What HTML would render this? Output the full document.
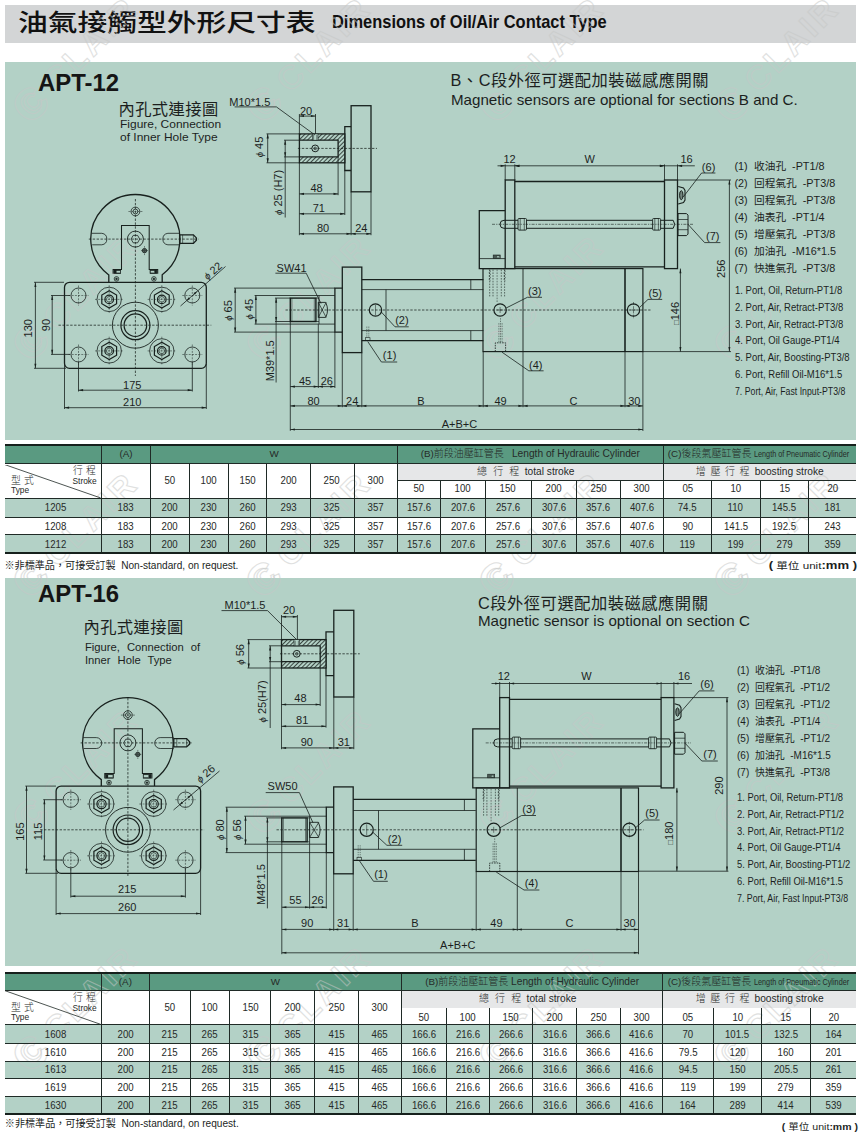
<!DOCTYPE html>
<html lang="zh-Hant"><head><meta charset="utf-8"><title>油氣接觸型外形尺寸表 Dimensions of Oil/Air Contact Type</title>
<style>
html,body{margin:0;padding:0;background:#fff}
body{width:861px;height:1139px;position:relative;overflow:hidden;font-family:"Liberation Sans","Noto Sans CJK TC",sans-serif;color:#1c1f1e}
.abs{position:absolute;white-space:nowrap}
#titlebar{position:absolute;left:5px;top:5px;width:851px;height:38px;background:#d3d5d6}
#t-zh{left:13px;top:-2px;font-size:24px;transform-origin:0 50%;transform:scaleX(1.24);line-height:40px;font-family:"Liberation Sans","Noto Sans CJK TC",sans-serif;font-weight:500;color:#111}
#t-en{left:327px;top:3px;font-size:18.4px;font-weight:bold;line-height:28px;transform-origin:0 50%;transform:scaleX(0.894);color:#111}
.bg{position:absolute}
.panel{position:absolute;left:5px;width:851px;background:#b3d1c6}
#p1{top:62.3px;height:377.4px}
#p2{top:578px;height:388px}
svg#draw{position:absolute;left:0;top:0;width:861px;height:1139px}
svg#draw text{font-family:"Liberation Sans","Noto Sans CJK TC",sans-serif;fill:#1c1f1e}
.model{font-size:23px;font-weight:bold;line-height:24px;color:#151515;transform-origin:0 50%;transform:scaleX(1.04)}
.zh16{font-size:16.3px;line-height:18px;letter-spacing:0.5px;font-family:"Liberation Sans","Noto Sans CJK TC",sans-serif}
.en15{font-size:15.15px;line-height:17px}
.en11{font-size:10.6px;line-height:13px;transform-origin:0 0;transform:scaleX(1.13)}
.leg{font-size:10.8px;line-height:16.9px}
.leg div{height:16.9px;white-space:nowrap}
.leg .e{transform-origin:0 50%;transform:scaleX(0.88)}
.leg .n{display:inline-block;width:19.5px}
.leg .z{font-size:10.7px}
table.dt{position:absolute;left:5px;width:851px;border-collapse:collapse;table-layout:fixed;font-size:9.8px;color:#262a28}
table.dt td{border:1px solid #1f2a26;padding:0;text-align:center;vertical-align:middle;overflow:hidden;white-space:nowrap;line-height:10px}
table.dt{border-top:2px solid #16201c;border-bottom:2px solid #16201c}
table.dt tr.h td{font-size:9.8px}
table.dt td.m{padding-left:6px}
table.dt td i{font-style:normal;display:inline-block;font-size:10.4px;transform:scaleX(0.93)}
.zl{font-weight:300;font-size:10px}
.zs{word-spacing:2.2px;letter-spacing:0.6px;margin-right:2px}
table.dt td.sub{padding-right:9px}


table.dt td:first-child{border-left:none}
table.dt td.last{border-right:none}
table.nb td.sub{border-bottom:none}
table.nb tr.n2 td{border-top:none;padding-top:4px}
.fn{font-size:10.1px;line-height:12px}
.un{font-size:9.6px;line-height:12px;transform-origin:100% 50%;transform:scaleX(1.13)}
.un b{font-size:10.8px}
table.dt td.diag{position:relative;text-align:left}
.dg{position:relative;width:96px}
.dg svg{position:absolute;left:0;top:0}
.dg span{position:absolute;white-space:nowrap;line-height:10px}
.dg .a1{left:68px;top:1.8px;font-size:9.8px;letter-spacing:0.3px;font-weight:300}
.dg .a2{left:67.5px;top:11.6px;font-size:8.4px}
.dg .a3{left:6px;top:11.6px;font-size:9.8px;letter-spacing:0.3px;font-weight:300}
.dg .a4{left:6px;top:20.8px;font-size:8.4px}
.cn{display:inline-block;transform-origin:0 50%;transform:scaleX(0.74);margin-right:-31px;font-size:9.8px}
svg#draw #wmk text{font-family:"Liberation Sans",sans-serif;fill:none;stroke:#c6c8c7;stroke-width:1.1;opacity:0.55;font-weight:bold}
</style></head><body>

<div id="titlebar"><div class="abs" id="t-zh">油氣接觸型外形尺寸表</div><div class="abs" id="t-en">Dimensions of Oil/Air Contact Type</div></div>
<div class="panel" id="p1"></div><div class="panel" id="p2"></div>
<div class="bg" style="left:5px;top:444.5px;width:851px;height:19.0px;background:#5a9a81"></div>
<div class="bg" style="left:397.5px;top:463.5px;width:458.5px;height:17.0px;background:#e6e7e8"></div>
<div class="bg" style="left:5px;top:498.0px;width:851px;height:19.0px;background:#b3d1c6"></div>
<div class="bg" style="left:5px;top:534.5px;width:851px;height:18.5px;background:#b3d1c6"></div>
<div class="bg" style="left:5px;top:972.8px;width:851px;height:17.3px;background:#5a9a81"></div>
<div class="bg" style="left:401.5px;top:990.1px;width:454.5px;height:17.6px;background:#e6e7e8"></div>
<div class="bg" style="left:5px;top:1025.0px;width:851px;height:18.1px;background:#b3d1c6"></div>
<div class="bg" style="left:5px;top:1061.3px;width:851px;height:17.4px;background:#b3d1c6"></div>
<div class="bg" style="left:5px;top:1096.6px;width:851px;height:17.4px;background:#b3d1c6"></div>
<svg id="draw" viewBox="0 0 861 1139">
<g id="wmk"><g transform="translate(74 60) rotate(-45)"><text class="wm" x="-78" y="15.8" font-size="44">C</text><text class="wm" x="-68" y="8.6" font-size="24">C</text><text class="wm" x="-36" y="11.8" font-size="33" letter-spacing="3.5">CLAIR</text></g>
<g transform="translate(307 60) rotate(-45)"><text class="wm" x="-78" y="15.8" font-size="44">C</text><text class="wm" x="-68" y="8.6" font-size="24">C</text><text class="wm" x="-36" y="11.8" font-size="33" letter-spacing="3.5">CLAIR</text></g>
<g transform="translate(540 60) rotate(-45)"><text class="wm" x="-78" y="15.8" font-size="44">C</text><text class="wm" x="-68" y="8.6" font-size="24">C</text><text class="wm" x="-36" y="11.8" font-size="33" letter-spacing="3.5">CLAIR</text></g>
<g transform="translate(775 60) rotate(-45)"><text class="wm" x="-78" y="15.8" font-size="44">C</text><text class="wm" x="-68" y="8.6" font-size="24">C</text><text class="wm" x="-36" y="11.8" font-size="33" letter-spacing="3.5">CLAIR</text></g>
<g transform="translate(74 298) rotate(-45)"><text class="wm" x="-78" y="15.8" font-size="44">C</text><text class="wm" x="-68" y="8.6" font-size="24">C</text><text class="wm" x="-36" y="11.8" font-size="33" letter-spacing="3.5">CLAIR</text></g>
<g transform="translate(307 298) rotate(-45)"><text class="wm" x="-78" y="15.8" font-size="44">C</text><text class="wm" x="-68" y="8.6" font-size="24">C</text><text class="wm" x="-36" y="11.8" font-size="33" letter-spacing="3.5">CLAIR</text></g>
<g transform="translate(540 298) rotate(-45)"><text class="wm" x="-78" y="15.8" font-size="44">C</text><text class="wm" x="-68" y="8.6" font-size="24">C</text><text class="wm" x="-36" y="11.8" font-size="33" letter-spacing="3.5">CLAIR</text></g>
<g transform="translate(775 298) rotate(-45)"><text class="wm" x="-78" y="15.8" font-size="44">C</text><text class="wm" x="-68" y="8.6" font-size="24">C</text><text class="wm" x="-36" y="11.8" font-size="33" letter-spacing="3.5">CLAIR</text></g>
<g transform="translate(74 535) rotate(-45)"><text class="wm" x="-78" y="15.8" font-size="44">C</text><text class="wm" x="-68" y="8.6" font-size="24">C</text><text class="wm" x="-36" y="11.8" font-size="33" letter-spacing="3.5">CLAIR</text></g>
<g transform="translate(307 535) rotate(-45)"><text class="wm" x="-78" y="15.8" font-size="44">C</text><text class="wm" x="-68" y="8.6" font-size="24">C</text><text class="wm" x="-36" y="11.8" font-size="33" letter-spacing="3.5">CLAIR</text></g>
<g transform="translate(540 535) rotate(-45)"><text class="wm" x="-78" y="15.8" font-size="44">C</text><text class="wm" x="-68" y="8.6" font-size="24">C</text><text class="wm" x="-36" y="11.8" font-size="33" letter-spacing="3.5">CLAIR</text></g>
<g transform="translate(775 535) rotate(-45)"><text class="wm" x="-78" y="15.8" font-size="44">C</text><text class="wm" x="-68" y="8.6" font-size="24">C</text><text class="wm" x="-36" y="11.8" font-size="33" letter-spacing="3.5">CLAIR</text></g>
<g transform="translate(74 772) rotate(-45)"><text class="wm" x="-78" y="15.8" font-size="44">C</text><text class="wm" x="-68" y="8.6" font-size="24">C</text><text class="wm" x="-36" y="11.8" font-size="33" letter-spacing="3.5">CLAIR</text></g>
<g transform="translate(307 772) rotate(-45)"><text class="wm" x="-78" y="15.8" font-size="44">C</text><text class="wm" x="-68" y="8.6" font-size="24">C</text><text class="wm" x="-36" y="11.8" font-size="33" letter-spacing="3.5">CLAIR</text></g>
<g transform="translate(540 772) rotate(-45)"><text class="wm" x="-78" y="15.8" font-size="44">C</text><text class="wm" x="-68" y="8.6" font-size="24">C</text><text class="wm" x="-36" y="11.8" font-size="33" letter-spacing="3.5">CLAIR</text></g>
<g transform="translate(775 772) rotate(-45)"><text class="wm" x="-78" y="15.8" font-size="44">C</text><text class="wm" x="-68" y="8.6" font-size="24">C</text><text class="wm" x="-36" y="11.8" font-size="33" letter-spacing="3.5">CLAIR</text></g>
<g transform="translate(74 1009) rotate(-45)"><text class="wm" x="-78" y="15.8" font-size="44">C</text><text class="wm" x="-68" y="8.6" font-size="24">C</text><text class="wm" x="-36" y="11.8" font-size="33" letter-spacing="3.5">CLAIR</text></g>
<g transform="translate(307 1009) rotate(-45)"><text class="wm" x="-78" y="15.8" font-size="44">C</text><text class="wm" x="-68" y="8.6" font-size="24">C</text><text class="wm" x="-36" y="11.8" font-size="33" letter-spacing="3.5">CLAIR</text></g>
<g transform="translate(540 1009) rotate(-45)"><text class="wm" x="-78" y="15.8" font-size="44">C</text><text class="wm" x="-68" y="8.6" font-size="24">C</text><text class="wm" x="-36" y="11.8" font-size="33" letter-spacing="3.5">CLAIR</text></g>
<g transform="translate(775 1009) rotate(-45)"><text class="wm" x="-78" y="15.8" font-size="44">C</text><text class="wm" x="-68" y="8.6" font-size="24">C</text><text class="wm" x="-36" y="11.8" font-size="33" letter-spacing="3.5">CLAIR</text></g></g>
<defs><pattern id="hatch" width="3" height="3" patternUnits="userSpaceOnUse" patternTransform="rotate(-45)"><rect width="3" height="3" fill="#b3d1c6"/><line x1="0" y1="1.5" x2="3" y2="1.5" stroke="#1d2623" stroke-width="0.8"/></pattern></defs>
<path d="M108.8 282.3 L108.8 274.9 A44.6 44.6 0 1 1 162.2 274.7 L162.2 282.3" fill="none" stroke="#18211e" stroke-width="1.3"/>
<path d="M113.1 273.8 L113.1 269.4 L121.5 269.4 L121.5 225.5 L149.2 225.5 L149.2 269.4 L157.7 269.4 L157.7 273.8" fill="none" stroke="#18211e" stroke-width="1.04" stroke-linejoin="miter"/>
<rect x="113.9" y="270.0" width="6.8" height="3.6" fill="#18211e" stroke="#18211e" stroke-width="0.6"/>
<rect x="150.0" y="270.0" width="6.9" height="3.6" fill="#18211e" stroke="#18211e" stroke-width="0.6"/>
<rect x="116.3" y="270.7" width="3.9" height="2.2" fill="#b3d1c6" stroke="#18211e" stroke-width="0.3"/>
<rect x="150.5" y="270.7" width="4.0" height="2.2" fill="#b3d1c6" stroke="#18211e" stroke-width="0.3"/>
<circle cx="135.4" cy="211.5" r="4.4" fill="none" stroke="#18211e" stroke-width="0.8"/>
<circle cx="135.4" cy="211.5" r="2.4" fill="none" stroke="#18211e" stroke-width="0.8"/>
<line x1="128.4" y1="211.5" x2="142.4" y2="211.5" stroke="#18211e" stroke-width="0.5" stroke-dasharray="2 1"/>
<circle cx="135.4" cy="239.1" r="8.0" fill="none" stroke="#18211e" stroke-width="0.9"/>
<path d="M139.7 239.1 L137.6 242.8 L133.2 242.8 L131.1 239.1 L133.2 235.4 L137.6 235.4 Z" fill="none" stroke="#18211e" stroke-width="0.8" stroke-linejoin="miter"/>
<path d="M91.6 233.3 L101.8 233.3 A5.8 5.8 0 0 1 101.8 244.8 L92.2 244.8" fill="none" stroke="#18211e" stroke-width="0.8"/>
<path d="M179.4 233.3 L167.9 233.3 A5.8 5.8 0 0 0 167.9 244.8 L179.4 244.8" fill="none" stroke="#18211e" stroke-width="0.8"/>
<path d="M179.6 234.9 L193.4 234.9 L196.4 237.9 L196.4 240.3 L193.4 243.4 L179.6 243.4 Z" fill="none" stroke="#18211e" stroke-width="1.3" stroke-linejoin="miter"/>
<line x1="182.6" y1="234.9" x2="182.6" y2="243.4" stroke="#18211e" stroke-width="0.6"/>
<line x1="193.4" y1="234.9" x2="193.4" y2="243.4" stroke="#18211e" stroke-width="0.6"/>
<line x1="88.8" y1="239.1" x2="198.4" y2="239.1" stroke="#18211e" stroke-width="0.75" stroke-dasharray="2.4 1.5"/>
<circle cx="144.5" cy="250.6" r="2.2" fill="#5a6b65" stroke="#18211e" stroke-width="0.8"/>
<line x1="144.5" y1="246.1" x2="144.5" y2="255.1" stroke="#18211e" stroke-width="0.5" stroke-dasharray="1.5 1"/>
<line x1="141.0" y1="250.6" x2="148.0" y2="250.6" stroke="#18211e" stroke-width="0.5"/>
<circle cx="116.5" cy="278.9" r="2.3" fill="none" stroke="#18211e" stroke-width="0.8"/>
<circle cx="116.5" cy="278.9" r="0.9" fill="#18211e" stroke="#18211e" stroke-width="0.6"/>
<circle cx="153.9" cy="278.9" r="2.3" fill="none" stroke="#18211e" stroke-width="0.8"/>
<circle cx="153.9" cy="278.9" r="0.9" fill="#18211e" stroke="#18211e" stroke-width="0.6"/>
<rect x="64.5" y="282.3" width="141.8" height="86.0" rx="5" fill="none" stroke="#18211e" stroke-width="1.3"/>
<circle cx="78.5" cy="295.5" r="7.5" fill="none" stroke="#18211e" stroke-width="0.8"/>
<line x1="68.5" y1="295.5" x2="88.5" y2="295.5" stroke="#18211e" stroke-width="0.5" stroke-dasharray="2 1.2"/>
<line x1="78.5" y1="285.5" x2="78.5" y2="305.5" stroke="#18211e" stroke-width="0.5" stroke-dasharray="2 1.2"/>
<circle cx="192.3" cy="295.5" r="7.5" fill="none" stroke="#18211e" stroke-width="0.8"/>
<line x1="182.3" y1="295.5" x2="202.3" y2="295.5" stroke="#18211e" stroke-width="0.5" stroke-dasharray="2 1.2"/>
<line x1="192.3" y1="285.5" x2="192.3" y2="305.5" stroke="#18211e" stroke-width="0.5" stroke-dasharray="2 1.2"/>
<circle cx="78.5" cy="354.5" r="7.5" fill="none" stroke="#18211e" stroke-width="0.8"/>
<line x1="68.5" y1="354.5" x2="88.5" y2="354.5" stroke="#18211e" stroke-width="0.5" stroke-dasharray="2 1.2"/>
<line x1="78.5" y1="344.5" x2="78.5" y2="364.5" stroke="#18211e" stroke-width="0.5" stroke-dasharray="2 1.2"/>
<circle cx="192.3" cy="354.5" r="7.5" fill="none" stroke="#18211e" stroke-width="0.8"/>
<line x1="182.3" y1="354.5" x2="202.3" y2="354.5" stroke="#18211e" stroke-width="0.5" stroke-dasharray="2 1.2"/>
<line x1="192.3" y1="344.5" x2="192.3" y2="364.5" stroke="#18211e" stroke-width="0.5" stroke-dasharray="2 1.2"/>
<circle cx="109.2" cy="299.4" r="12.2" fill="none" stroke="#18211e" stroke-width="0.8"/>
<path d="M116.6 303.7 L109.2 308.0 L101.8 303.7 L101.8 295.1 L109.2 290.8 L116.6 295.1 Z" fill="none" stroke="#18211e" stroke-width="1.2" stroke-linejoin="miter"/>
<circle cx="109.2" cy="299.4" r="4.3" fill="none" stroke="#18211e" stroke-width="1.2"/>
<circle cx="109.2" cy="299.4" r="2.8" fill="none" stroke="#18211e" stroke-width="0.6"/>
<line x1="95.0" y1="299.4" x2="123.4" y2="299.4" stroke="#18211e" stroke-width="0.5" stroke-dasharray="2 1.2"/>
<line x1="109.2" y1="285.2" x2="109.2" y2="313.6" stroke="#18211e" stroke-width="0.5" stroke-dasharray="2 1.2"/>
<circle cx="161.8" cy="299.4" r="12.2" fill="none" stroke="#18211e" stroke-width="0.8"/>
<path d="M169.2 303.7 L161.8 308.0 L154.4 303.7 L154.4 295.1 L161.8 290.8 L169.2 295.1 Z" fill="none" stroke="#18211e" stroke-width="1.2" stroke-linejoin="miter"/>
<circle cx="161.8" cy="299.4" r="4.3" fill="none" stroke="#18211e" stroke-width="1.2"/>
<circle cx="161.8" cy="299.4" r="2.8" fill="none" stroke="#18211e" stroke-width="0.6"/>
<line x1="147.6" y1="299.4" x2="176.0" y2="299.4" stroke="#18211e" stroke-width="0.5" stroke-dasharray="2 1.2"/>
<line x1="161.8" y1="285.2" x2="161.8" y2="313.6" stroke="#18211e" stroke-width="0.5" stroke-dasharray="2 1.2"/>
<circle cx="109.2" cy="350.9" r="12.2" fill="none" stroke="#18211e" stroke-width="0.8"/>
<path d="M116.6 355.2 L109.2 359.5 L101.8 355.2 L101.8 346.6 L109.2 342.3 L116.6 346.6 Z" fill="none" stroke="#18211e" stroke-width="1.2" stroke-linejoin="miter"/>
<circle cx="109.2" cy="350.9" r="4.3" fill="none" stroke="#18211e" stroke-width="1.2"/>
<circle cx="109.2" cy="350.9" r="2.8" fill="none" stroke="#18211e" stroke-width="0.6"/>
<line x1="95.0" y1="350.9" x2="123.4" y2="350.9" stroke="#18211e" stroke-width="0.5" stroke-dasharray="2 1.2"/>
<line x1="109.2" y1="336.7" x2="109.2" y2="365.1" stroke="#18211e" stroke-width="0.5" stroke-dasharray="2 1.2"/>
<circle cx="161.8" cy="350.9" r="12.2" fill="none" stroke="#18211e" stroke-width="0.8"/>
<path d="M169.2 355.2 L161.8 359.5 L154.4 355.2 L154.4 346.6 L161.8 342.3 L169.2 346.6 Z" fill="none" stroke="#18211e" stroke-width="1.2" stroke-linejoin="miter"/>
<circle cx="161.8" cy="350.9" r="4.3" fill="none" stroke="#18211e" stroke-width="1.2"/>
<circle cx="161.8" cy="350.9" r="2.8" fill="none" stroke="#18211e" stroke-width="0.6"/>
<line x1="147.6" y1="350.9" x2="176.0" y2="350.9" stroke="#18211e" stroke-width="0.5" stroke-dasharray="2 1.2"/>
<line x1="161.8" y1="336.7" x2="161.8" y2="365.1" stroke="#18211e" stroke-width="0.5" stroke-dasharray="2 1.2"/>
<circle cx="135.4" cy="325.2" r="23.0" fill="none" stroke="#18211e" stroke-width="0.9"/>
<circle cx="135.4" cy="325.2" r="14.5" fill="none" stroke="#18211e" stroke-width="1.2"/>
<circle cx="135.4" cy="325.2" r="11.3" fill="none" stroke="#18211e" stroke-width="1.2"/>
<line x1="58.5" y1="325.2" x2="211.3" y2="325.2" stroke="#18211e" stroke-width="0.75" stroke-dasharray="2.4 1.5"/>
<line x1="135.4" y1="199.0" x2="135.4" y2="376.0" stroke="#18211e" stroke-width="0.75" stroke-dasharray="2.4 1.5"/>
<line x1="34.0" y1="282.3" x2="64.0" y2="282.3" stroke="#18211e" stroke-width="0.8"/>
<line x1="34.0" y1="368.3" x2="66.0" y2="368.3" stroke="#18211e" stroke-width="0.8"/>
<line x1="35.4" y1="282.3" x2="35.4" y2="368.3" stroke="#18211e" stroke-width="0.8"/>
<path d="M35.4 282.3 L36.4 286.9 L34.4 286.9 Z" fill="#18211e"/>
<path d="M35.4 368.3 L34.4 363.7 L36.4 363.7 Z" fill="#18211e"/>
<text x="28.0" y="332.2" font-size="11" text-anchor="middle" transform="rotate(-90 28.0 328.2)">130</text>
<line x1="51.0" y1="295.5" x2="70.0" y2="295.5" stroke="#18211e" stroke-width="0.8"/>
<line x1="51.0" y1="354.4" x2="70.0" y2="354.4" stroke="#18211e" stroke-width="0.8"/>
<line x1="52.2" y1="295.5" x2="52.2" y2="354.4" stroke="#18211e" stroke-width="0.8"/>
<path d="M52.2 295.5 L53.2 300.1 L51.2 300.1 Z" fill="#18211e"/>
<path d="M52.2 354.4 L51.2 349.8 L53.2 349.8 Z" fill="#18211e"/>
<text x="46.2" y="329.0" font-size="11" text-anchor="middle" transform="rotate(-90 46.2 325.0)">90</text>
<line x1="78.5" y1="362.0" x2="78.5" y2="391.5" stroke="#18211e" stroke-width="0.8"/>
<line x1="192.3" y1="362.0" x2="192.3" y2="391.5" stroke="#18211e" stroke-width="0.8"/>
<line x1="78.5" y1="390.2" x2="192.3" y2="390.2" stroke="#18211e" stroke-width="0.8"/>
<path d="M78.5 390.2 L83.1 389.1 L83.1 391.2 Z" fill="#18211e"/>
<path d="M192.3 390.2 L187.7 391.2 L187.7 389.1 Z" fill="#18211e"/>
<text x="132.2" y="388.6" font-size="11" text-anchor="middle">175</text>
<line x1="64.5" y1="364.0" x2="64.5" y2="409.0" stroke="#18211e" stroke-width="0.8"/>
<line x1="206.3" y1="364.0" x2="206.3" y2="409.0" stroke="#18211e" stroke-width="0.8"/>
<line x1="64.5" y1="407.7" x2="206.3" y2="407.7" stroke="#18211e" stroke-width="0.8"/>
<path d="M64.5 407.7 L69.1 406.6 L69.1 408.8 Z" fill="#18211e"/>
<path d="M206.3 407.7 L201.7 408.8 L201.7 406.6 Z" fill="#18211e"/>
<text x="132.2" y="405.6" font-size="11" text-anchor="middle">210</text>
<line x1="180.5" y1="306.0" x2="225.5" y2="266.5" stroke="#18211e" stroke-width="0.8"/>
<path d="M186.5 300.7 L188.8 297.3 L190.2 298.9 Z" fill="#18211e"/>
<path d="M197.2 291.3 L194.9 294.7 L193.5 293.1 Z" fill="#18211e"/>
<text x="212.6" y="274.6" font-size="11" text-anchor="middle" transform="rotate(-41 212.6 270.6)"><tspan font-size="9.5" font-style="italic">ϕ</tspan> 22</text>
<rect x="351.1" y="105.7" width="19.9" height="86.1" fill="none" stroke="#18211e" stroke-width="1.3"/>
<path d="M351.1 126.6 L344.8 126.6 L344.8 170.5 L351.1 170.5" fill="none" stroke="#18211e" stroke-width="1.3" stroke-linejoin="miter"/>
<path d="M299.4 133.9 H344.8 V162.8 H299.4 Z M299.4 140.2 V156.9 H338.1 V140.2 Z" fill="url(#hatch)" fill-rule="evenodd" stroke="none"/>
<rect x="299.4" y="133.9" width="45.4" height="28.9" fill="none" stroke="#18211e" stroke-width="1.3"/>
<path d="M299.4 140.2 L338.1 140.2 L338.1 156.9 L299.4 156.9" fill="none" stroke="#18211e" stroke-width="1.3" stroke-linejoin="miter"/>
<line x1="297.9" y1="148.4" x2="377.0" y2="148.4" stroke="#18211e" stroke-width="0.75" stroke-dasharray="2.4 1.5"/>
<circle cx="315.2" cy="148.4" r="3.4" fill="none" stroke="#18211e" stroke-width="1.0"/>
<circle cx="315.2" cy="148.4" r="1.3" fill="none" stroke="#18211e" stroke-width="0.7"/>
<rect x="312.4" y="133.9" width="5.6" height="6.3" fill="#b3d1c6" stroke="#18211e" stroke-width="0.6"/>
<line x1="313.6" y1="134.9" x2="313.6" y2="140.2" stroke="#18211e" stroke-width="0.5"/>
<line x1="316.8" y1="134.9" x2="316.8" y2="140.2" stroke="#18211e" stroke-width="0.5"/>
<line x1="299.4" y1="114.0" x2="299.4" y2="133.9" stroke="#18211e" stroke-width="0.8"/>
<line x1="315.5" y1="114.0" x2="315.5" y2="133.9" stroke="#18211e" stroke-width="0.8"/>
<line x1="299.4" y1="116.1" x2="315.5" y2="116.1" stroke="#18211e" stroke-width="0.8"/>
<path d="M299.4 116.1 L304.0 115.0 L304.0 117.1 Z" fill="#18211e"/>
<path d="M315.5 116.1 L310.9 117.1 L310.9 115.0 Z" fill="#18211e"/>
<text x="306.0" y="114.6" font-size="11" text-anchor="middle">20</text>
<text x="249.8" y="106.3" font-size="11" text-anchor="middle">M10*1.5</text>
<line x1="234.6" y1="106.9" x2="276.4" y2="106.9" stroke="#18211e" stroke-width="0.8"/>
<line x1="276.4" y1="106.9" x2="315.0" y2="135.0" stroke="#18211e" stroke-width="0.8"/>
<line x1="266.5" y1="133.9" x2="299.4" y2="133.9" stroke="#18211e" stroke-width="0.8"/>
<line x1="266.5" y1="162.8" x2="299.4" y2="162.8" stroke="#18211e" stroke-width="0.8"/>
<line x1="267.7" y1="133.9" x2="267.7" y2="162.8" stroke="#18211e" stroke-width="0.8"/>
<path d="M267.7 133.9 L268.8 138.5 L266.6 138.5 Z" fill="#18211e"/>
<path d="M267.7 162.8 L266.6 158.2 L268.8 158.2 Z" fill="#18211e"/>
<text x="258.7" y="151.0" font-size="11" text-anchor="middle" transform="rotate(-90 258.7 147.0)"><tspan font-size="9.5" font-style="italic">ϕ</tspan> 45</text>
<line x1="284.0" y1="140.2" x2="299.4" y2="140.2" stroke="#18211e" stroke-width="0.8"/>
<line x1="284.0" y1="156.9" x2="299.4" y2="156.9" stroke="#18211e" stroke-width="0.8"/>
<line x1="285.2" y1="140.2" x2="285.2" y2="217.5" stroke="#18211e" stroke-width="0.8"/>
<path d="M285.2 140.2 L286.2 144.8 L284.1 144.8 Z" fill="#18211e"/>
<path d="M285.2 156.9 L284.1 152.3 L286.2 152.3 Z" fill="#18211e"/>
<text x="278.5" y="196.4" font-size="11" text-anchor="middle" transform="rotate(-90 278.5 192.4)"><tspan font-size="9.5" font-style="italic">ϕ</tspan> 25 (H7)</text>
<line x1="299.4" y1="162.8" x2="299.4" y2="235.2" stroke="#18211e" stroke-width="0.8"/>
<line x1="338.1" y1="156.9" x2="338.1" y2="195.2" stroke="#18211e" stroke-width="0.8"/>
<line x1="299.4" y1="193.9" x2="338.1" y2="193.9" stroke="#18211e" stroke-width="0.8"/>
<path d="M299.4 193.9 L304.0 192.8 L304.0 195.0 Z" fill="#18211e"/>
<path d="M338.1 193.9 L333.5 195.0 L333.5 192.8 Z" fill="#18211e"/>
<text x="316.5" y="191.8" font-size="11" text-anchor="middle">48</text>
<line x1="344.8" y1="170.5" x2="344.8" y2="215.0" stroke="#18211e" stroke-width="0.8"/>
<line x1="299.4" y1="213.8" x2="344.8" y2="213.8" stroke="#18211e" stroke-width="0.8"/>
<path d="M299.4 213.8 L304.0 212.8 L304.0 214.9 Z" fill="#18211e"/>
<path d="M344.8 213.8 L340.2 214.9 L340.2 212.8 Z" fill="#18211e"/>
<text x="318.8" y="212.0" font-size="11" text-anchor="middle">71</text>
<line x1="351.1" y1="191.8" x2="351.1" y2="235.2" stroke="#18211e" stroke-width="0.8"/>
<line x1="371.0" y1="191.8" x2="371.0" y2="235.2" stroke="#18211e" stroke-width="0.8"/>
<line x1="299.4" y1="233.8" x2="371.0" y2="233.8" stroke="#18211e" stroke-width="0.8"/>
<path d="M299.4 233.8 L304.0 232.8 L304.0 234.9 Z" fill="#18211e"/>
<path d="M351.1 233.8 L346.5 234.9 L346.5 232.8 Z" fill="#18211e"/>
<path d="M351.1 233.8 L355.7 232.8 L355.7 234.9 Z" fill="#18211e"/>
<path d="M371.0 233.8 L366.4 234.9 L366.4 232.8 Z" fill="#18211e"/>
<text x="323.0" y="232.0" font-size="11" text-anchor="middle">80</text>
<text x="361.3" y="232.0" font-size="11" text-anchor="middle">24</text>
<rect x="342.3" y="267.1" width="19.5" height="85.5" fill="none" stroke="#18211e" stroke-width="1.3"/>
<path d="M342.3 288.1 L334.9 288.1 L334.9 332.1 L342.3 332.1" fill="none" stroke="#18211e" stroke-width="1.3" stroke-linejoin="miter"/>
<path d="M334.9 295.5 L319.0 295.5 L319.0 324.1 L334.9 324.1" fill="none" stroke="#18211e" stroke-width="0.8" stroke-linejoin="miter"/>
<rect x="290.3" y="298.1" width="25.6" height="23.4" fill="none" stroke="#18211e" stroke-width="1.4300000000000002"/>
<line x1="315.9" y1="298.1" x2="319.0" y2="298.1" stroke="#18211e" stroke-width="0.7"/>
<line x1="315.9" y1="321.5" x2="319.0" y2="321.5" stroke="#18211e" stroke-width="0.7"/>
<line x1="291.9" y1="298.1" x2="291.9" y2="321.5" stroke="#18211e" stroke-width="0.5"/>
<line x1="314.3" y1="298.1" x2="314.3" y2="321.5" stroke="#18211e" stroke-width="0.5"/>
<path d="M318.3 302.4 H325.7 Q329.4 310.0 325.7 317.4 H318.3 Z" fill="none" stroke="#18211e" stroke-width="0.9"/>
<line x1="318.3" y1="302.4" x2="326.2" y2="317.4" stroke="#18211e" stroke-width="0.7"/>
<line x1="318.3" y1="317.4" x2="326.2" y2="302.4" stroke="#18211e" stroke-width="0.7"/>
<line x1="361.8" y1="279.7" x2="483.4" y2="279.7" stroke="#18211e" stroke-width="1.3"/>
<line x1="361.8" y1="289.6" x2="483.4" y2="289.6" stroke="#18211e" stroke-width="0.8"/>
<line x1="361.8" y1="330.6" x2="483.4" y2="330.6" stroke="#18211e" stroke-width="0.8"/>
<line x1="361.8" y1="340.7" x2="483.4" y2="340.7" stroke="#18211e" stroke-width="1.3"/>
<line x1="470.8" y1="279.7" x2="470.8" y2="289.6" stroke="#18211e" stroke-width="0.8"/>
<line x1="470.8" y1="330.6" x2="470.8" y2="340.7" stroke="#18211e" stroke-width="0.8"/>
<line x1="386.0" y1="289.6" x2="386.0" y2="330.6" stroke="#18211e" stroke-width="0.8"/>
<circle cx="375.5" cy="310.0" r="6.2" fill="none" stroke="#18211e" stroke-width="1.2"/>
<line x1="375.5" y1="304.8" x2="375.5" y2="315.2" stroke="#18211e" stroke-width="0.5"/>
<rect x="365.6" y="337.7" width="4.4" height="3.0" fill="none" stroke="#18211e" stroke-width="0.6"/>
<line x1="366.8" y1="326.6" x2="366.8" y2="337.7" stroke="#18211e" stroke-width="0.5" stroke-dasharray="1.2 1"/>
<line x1="368.8" y1="326.6" x2="368.8" y2="337.7" stroke="#18211e" stroke-width="0.5" stroke-dasharray="1.2 1"/>
<rect x="483.0" y="268.6" width="159.9" height="83.0" fill="none" stroke="#18211e" stroke-width="1.1700000000000002"/>
<line x1="523.0" y1="268.6" x2="523.0" y2="351.6" stroke="#18211e" stroke-width="0.9"/>
<line x1="625.0" y1="268.6" x2="625.0" y2="351.6" stroke="#18211e" stroke-width="1.3"/>
<line x1="625.0" y1="268.6" x2="625.0" y2="351.6" stroke="#18211e" stroke-width="0.8"/>
<circle cx="500.1" cy="310.0" r="6.2" fill="none" stroke="#18211e" stroke-width="1.2"/>
<circle cx="633.5" cy="310.0" r="6.2" fill="none" stroke="#18211e" stroke-width="1.2"/>
<line x1="500.1" y1="307.0" x2="500.1" y2="313.0" stroke="#18211e" stroke-width="0.5"/>
<line x1="497.1" y1="310.0" x2="503.1" y2="310.0" stroke="#18211e" stroke-width="0.5"/>
<line x1="633.5" y1="302.0" x2="633.5" y2="319.0" stroke="#18211e" stroke-width="0.5" stroke-dasharray="3 1.2"/>
<line x1="630.5" y1="310.0" x2="636.5" y2="310.0" stroke="#18211e" stroke-width="0.5"/>
<line x1="489.7" y1="269.6" x2="489.7" y2="297.5" stroke="#18211e" stroke-width="0.6" stroke-dasharray="1.6 1.2"/>
<line x1="493.0" y1="269.6" x2="493.0" y2="297.5" stroke="#18211e" stroke-width="0.6" stroke-dasharray="1.6 1.2"/>
<line x1="501.3" y1="269.6" x2="501.3" y2="297.5" stroke="#18211e" stroke-width="0.6" stroke-dasharray="1.6 1.2"/>
<line x1="504.6" y1="269.6" x2="504.6" y2="297.5" stroke="#18211e" stroke-width="0.6" stroke-dasharray="1.6 1.2"/>
<line x1="497.1" y1="269.6" x2="497.1" y2="302.8" stroke="#18211e" stroke-width="0.5" stroke-dasharray="1.6 1.2"/>
<path d="M488.8 269.6 L490.6 271.2 L488.8 272.8 L490.6 274.4 L488.8 276.0 L490.6 277.6 L488.8 279.2 L490.6 280.8" fill="none" stroke="#18211e" stroke-width="0.5" stroke-linejoin="miter"/>
<path d="M503.7 269.6 L505.5 271.2 L503.7 272.8 L505.5 274.4 L503.7 276.0 L505.5 277.6 L503.7 279.2 L505.5 280.8" fill="none" stroke="#18211e" stroke-width="0.5" stroke-linejoin="miter"/>
<path d="M495.3 351.6 L495.3 342.8 L505.6 342.8 L505.6 351.6" fill="none" stroke="#18211e" stroke-width="0.8" stroke-linejoin="miter" stroke-dasharray="1.6 1"/>
<line x1="498.9" y1="323.2" x2="498.9" y2="342.8" stroke="#18211e" stroke-width="0.5" stroke-dasharray="1.4 1.1"/>
<line x1="502.1" y1="323.2" x2="502.1" y2="342.8" stroke="#18211e" stroke-width="0.5" stroke-dasharray="1.4 1.1"/>
<line x1="500.5" y1="318.2" x2="500.5" y2="342.8" stroke="#18211e" stroke-width="0.5" stroke-dasharray="1.4 1.1"/>
<rect x="505.2" y="180.0" width="9.6" height="88.6" fill="none" stroke="#18211e" stroke-width="1.3"/>
<rect x="664.5" y="180.0" width="13.0" height="88.6" fill="none" stroke="#18211e" stroke-width="1.3"/>
<line x1="514.8" y1="181.5" x2="664.5" y2="181.5" stroke="#18211e" stroke-width="1.3"/>
<line x1="514.8" y1="266.8" x2="664.5" y2="266.8" stroke="#18211e" stroke-width="1.1700000000000002"/>
<path d="M505.2 210.6 L479.3 210.6 L479.3 268.6 L505.2 268.6" fill="none" stroke="#18211e" stroke-width="1.3" stroke-linejoin="miter"/>
<line x1="479.3" y1="258.6" x2="505.2" y2="258.6" stroke="#18211e" stroke-width="0.8"/>
<rect x="493.2" y="255.0" width="7.0" height="3.6" fill="#4a5a54" stroke="#18211e" stroke-width="0.6"/>
<rect x="496.7" y="256.0" width="2.7" height="1.8" fill="#b3d1c6" stroke="#18211e" stroke-width="0.3"/>
<path d="M526.5 220.3 H504.0 A4.0 4.0 0 0 0 504.0 228.3 H526.5" fill="none" stroke="#18211e" stroke-width="1.0"/>
<path d="M652.6 220.3 H673.2 Q676.2 224.3 673.2 228.3 H652.6" fill="none" stroke="#18211e" stroke-width="1.0"/>
<line x1="526.5" y1="220.3" x2="652.6" y2="220.3" stroke="#18211e" stroke-width="1.0"/>
<line x1="526.5" y1="228.3" x2="652.6" y2="228.3" stroke="#18211e" stroke-width="1.0"/>
<line x1="492.0" y1="224.3" x2="693.0" y2="224.3" stroke="#18211e" stroke-width="0.6" stroke-dasharray="3 1.2 1.2 1.2"/>
<rect x="518.0" y="218.5" width="8.5" height="11.6" rx="1" fill="#b3d1c6" stroke="#18211e" stroke-width="0.9"/>
<line x1="520.2" y1="218.5" x2="520.2" y2="230.1" stroke="#18211e" stroke-width="0.6"/>
<line x1="524.3" y1="218.5" x2="524.3" y2="230.1" stroke="#18211e" stroke-width="0.6"/>
<line x1="518.0" y1="224.3" x2="526.5" y2="224.3" stroke="#18211e" stroke-width="0.5" stroke-dasharray="1.5 1"/>
<rect x="652.6" y="218.5" width="8.0" height="11.6" rx="1" fill="#b3d1c6" stroke="#18211e" stroke-width="0.9"/>
<line x1="654.8" y1="218.5" x2="654.8" y2="230.1" stroke="#18211e" stroke-width="0.6"/>
<line x1="658.4" y1="218.5" x2="658.4" y2="230.1" stroke="#18211e" stroke-width="0.6"/>
<line x1="652.6" y1="224.3" x2="660.6" y2="224.3" stroke="#18211e" stroke-width="0.5" stroke-dasharray="1.5 1"/>
<path d="M678.0 213.6 L686.5 213.6 L688.0 215.1 L688.0 234.1 L686.5 235.6 L678.0 235.6 Z" fill="none" stroke="#18211e" stroke-width="1.0" stroke-linejoin="miter"/>
<line x1="678.0" y1="219.5" x2="688.0" y2="219.5" stroke="#18211e" stroke-width="0.7"/>
<line x1="678.0" y1="229.7" x2="688.0" y2="229.7" stroke="#18211e" stroke-width="0.7"/>
<path d="M678.2 186.5 L683.5 188.0 L685.0 190.5 L685.0 200.0 L683.5 202.5 L678.2 204.0" fill="none" stroke="#18211e" stroke-width="1.1" stroke-linejoin="miter"/>
<ellipse cx="681.3" cy="195.2" rx="1.7" ry="4.5" fill="#74867f" stroke="#18211e" stroke-width="1"/>
<line x1="285.5" y1="310.0" x2="650.5" y2="310.0" stroke="#18211e" stroke-width="0.75" stroke-dasharray="2.4 1.5"/>
<line x1="234.0" y1="288.1" x2="334.9" y2="288.1" stroke="#18211e" stroke-width="0.8"/>
<line x1="234.0" y1="332.1" x2="334.9" y2="332.1" stroke="#18211e" stroke-width="0.8"/>
<line x1="235.2" y1="288.1" x2="235.2" y2="332.1" stroke="#18211e" stroke-width="0.8"/>
<path d="M235.2 288.1 L236.2 292.7 L234.1 292.7 Z" fill="#18211e"/>
<path d="M235.2 332.1 L234.1 327.5 L236.2 327.5 Z" fill="#18211e"/>
<text x="227.6" y="314.5" font-size="11" text-anchor="middle" transform="rotate(-90 227.6 310.5)"><tspan font-size="9.5" font-style="italic">ϕ</tspan> 65</text>
<line x1="254.6" y1="295.5" x2="319.0" y2="295.5" stroke="#18211e" stroke-width="0.8"/>
<line x1="254.6" y1="324.1" x2="319.0" y2="324.1" stroke="#18211e" stroke-width="0.8"/>
<line x1="255.9" y1="295.5" x2="255.9" y2="324.1" stroke="#18211e" stroke-width="0.8"/>
<path d="M255.9 295.5 L256.9 300.1 L254.8 300.1 Z" fill="#18211e"/>
<path d="M255.9 324.1 L254.8 319.5 L256.9 319.5 Z" fill="#18211e"/>
<text x="249.2" y="313.2" font-size="11" text-anchor="middle" transform="rotate(-90 249.2 309.2)"><tspan font-size="9.5" font-style="italic">ϕ</tspan> 45</text>
<line x1="275.0" y1="298.1" x2="290.3" y2="298.1" stroke="#18211e" stroke-width="0.8"/>
<line x1="275.0" y1="321.5" x2="290.3" y2="321.5" stroke="#18211e" stroke-width="0.8"/>
<line x1="276.1" y1="298.1" x2="276.1" y2="382.5" stroke="#18211e" stroke-width="0.8"/>
<path d="M276.1 298.1 L277.2 302.7 L275.1 302.7 Z" fill="#18211e"/>
<path d="M276.1 321.5 L275.1 316.9 L277.2 316.9 Z" fill="#18211e"/>
<text x="270.0" y="364.8" font-size="11" text-anchor="middle" transform="rotate(-90 270.0 360.8)">M39*1.5</text>
<text x="291.6" y="272.0" font-size="11" text-anchor="middle">SW41</text>
<line x1="275.4" y1="273.2" x2="306.2" y2="273.2" stroke="#18211e" stroke-width="0.8"/>
<line x1="306.2" y1="273.2" x2="321.0" y2="303.5" stroke="#18211e" stroke-width="0.8"/>
<line x1="290.3" y1="321.5" x2="290.3" y2="430.8" stroke="#18211e" stroke-width="0.8"/>
<line x1="318.3" y1="324.1" x2="318.3" y2="388.0" stroke="#18211e" stroke-width="0.8"/>
<line x1="334.9" y1="332.1" x2="334.9" y2="388.0" stroke="#18211e" stroke-width="0.8"/>
<line x1="290.3" y1="386.6" x2="334.9" y2="386.6" stroke="#18211e" stroke-width="0.8"/>
<path d="M290.3 386.6 L294.9 385.6 L294.9 387.7 Z" fill="#18211e"/>
<path d="M318.3 386.6 L313.7 387.7 L313.7 385.6 Z" fill="#18211e"/>
<path d="M318.3 386.6 L322.9 385.6 L322.9 387.7 Z" fill="#18211e"/>
<path d="M334.9 386.6 L330.3 387.7 L330.3 385.6 Z" fill="#18211e"/>
<text x="305.0" y="385.0" font-size="11" text-anchor="middle">45</text>
<text x="326.8" y="385.0" font-size="11" text-anchor="middle">26</text>
<line x1="342.3" y1="352.6" x2="342.3" y2="407.2" stroke="#18211e" stroke-width="0.8"/>
<line x1="361.8" y1="352.6" x2="361.8" y2="407.2" stroke="#18211e" stroke-width="0.8"/>
<line x1="483.2" y1="351.6" x2="483.2" y2="407.2" stroke="#18211e" stroke-width="0.8"/>
<line x1="523.0" y1="351.6" x2="523.0" y2="407.2" stroke="#18211e" stroke-width="0.8"/>
<line x1="625.0" y1="351.6" x2="625.0" y2="407.2" stroke="#18211e" stroke-width="0.8"/>
<line x1="642.9" y1="351.6" x2="642.9" y2="431.0" stroke="#18211e" stroke-width="0.8"/>
<line x1="290.3" y1="405.9" x2="642.9" y2="405.9" stroke="#18211e" stroke-width="0.8"/>
<path d="M342.3 405.9 L337.7 406.9 L337.7 404.8 Z" fill="#18211e"/>
<path d="M342.3 405.9 L346.9 404.8 L346.9 406.9 Z" fill="#18211e"/>
<path d="M361.8 405.9 L357.2 406.9 L357.2 404.8 Z" fill="#18211e"/>
<path d="M361.8 405.9 L366.4 404.8 L366.4 406.9 Z" fill="#18211e"/>
<path d="M483.2 405.9 L478.6 406.9 L478.6 404.8 Z" fill="#18211e"/>
<path d="M483.2 405.9 L487.8 404.8 L487.8 406.9 Z" fill="#18211e"/>
<path d="M523.0 405.9 L518.4 406.9 L518.4 404.8 Z" fill="#18211e"/>
<path d="M523.0 405.9 L527.6 404.8 L527.6 406.9 Z" fill="#18211e"/>
<path d="M625.0 405.9 L620.4 406.9 L620.4 404.8 Z" fill="#18211e"/>
<path d="M625.0 405.9 L629.6 404.8 L629.6 406.9 Z" fill="#18211e"/>
<path d="M290.3 405.9 L294.9 404.8 L294.9 406.9 Z" fill="#18211e"/>
<path d="M642.9 405.9 L638.3 406.9 L638.3 404.8 Z" fill="#18211e"/>
<text x="313.5" y="404.6" font-size="11" text-anchor="middle">80</text>
<text x="352.2" y="404.6" font-size="11" text-anchor="middle">24</text>
<text x="420.8" y="404.6" font-size="11" text-anchor="middle">B</text>
<text x="500.6" y="404.6" font-size="11" text-anchor="middle">49</text>
<text x="573.5" y="404.6" font-size="11" text-anchor="middle">C</text>
<text x="634.3" y="404.6" font-size="11" text-anchor="middle">30</text>
<line x1="290.3" y1="429.5" x2="642.9" y2="429.5" stroke="#18211e" stroke-width="0.8"/>
<path d="M290.3 429.5 L294.9 428.4 L294.9 430.6 Z" fill="#18211e"/>
<path d="M642.9 429.5 L638.3 430.6 L638.3 428.4 Z" fill="#18211e"/>
<text x="459.5" y="427.6" font-size="11" text-anchor="middle">A+B+C</text>
<text x="401.9" y="324.4" font-size="11" text-anchor="middle">(2)</text>
<line x1="395.0" y1="326.8" x2="408.7" y2="326.8" stroke="#18211e" stroke-width="0.8"/>
<line x1="395.0" y1="326.8" x2="381.3" y2="312.0" stroke="#18211e" stroke-width="0.8"/>
<text x="389.6" y="359.4" font-size="11" text-anchor="middle">(1)</text>
<line x1="381.4" y1="362.0" x2="397.2" y2="362.0" stroke="#18211e" stroke-width="0.8"/>
<line x1="381.4" y1="362.0" x2="367.8" y2="341.6" stroke="#18211e" stroke-width="0.8"/>
<text x="534.8" y="294.8" font-size="11" text-anchor="middle">(3)</text>
<line x1="527.4" y1="297.3" x2="542.0" y2="297.3" stroke="#18211e" stroke-width="0.8"/>
<line x1="527.4" y1="297.3" x2="505.8" y2="308.2" stroke="#18211e" stroke-width="0.8"/>
<text x="655.3" y="297.1" font-size="11" text-anchor="middle">(5)</text>
<line x1="648.0" y1="299.4" x2="662.2" y2="299.4" stroke="#18211e" stroke-width="0.8"/>
<line x1="648.0" y1="299.4" x2="639.5" y2="307.6" stroke="#18211e" stroke-width="0.8"/>
<text x="535.8" y="368.8" font-size="11" text-anchor="middle">(4)</text>
<line x1="528.8" y1="370.8" x2="543.6" y2="370.8" stroke="#18211e" stroke-width="0.8"/>
<line x1="528.8" y1="370.8" x2="502.0" y2="352.2" stroke="#18211e" stroke-width="0.8"/>
<text x="708.6" y="170.8" font-size="11" text-anchor="middle">(6)</text>
<line x1="701.6" y1="173.0" x2="715.4" y2="173.0" stroke="#18211e" stroke-width="0.8"/>
<line x1="701.6" y1="173.0" x2="683.2" y2="197.0" stroke="#18211e" stroke-width="0.8"/>
<text x="712.7" y="240.2" font-size="11" text-anchor="middle">(7)</text>
<line x1="704.6" y1="242.6" x2="720.4" y2="242.6" stroke="#18211e" stroke-width="0.8"/>
<line x1="704.6" y1="242.6" x2="688.0" y2="224.3" stroke="#18211e" stroke-width="0.8"/>
<line x1="505.2" y1="164.4" x2="505.2" y2="180.0" stroke="#18211e" stroke-width="0.8"/>
<line x1="514.8" y1="164.4" x2="514.8" y2="180.0" stroke="#18211e" stroke-width="0.8"/>
<line x1="664.5" y1="164.4" x2="664.5" y2="180.0" stroke="#18211e" stroke-width="0.8"/>
<line x1="677.5" y1="164.4" x2="677.5" y2="180.0" stroke="#18211e" stroke-width="0.8"/>
<line x1="497.5" y1="165.8" x2="694.8" y2="165.8" stroke="#18211e" stroke-width="0.8"/>
<path d="M505.2 165.8 L500.6 166.9 L500.6 164.8 Z" fill="#18211e"/>
<path d="M514.8 165.8 L519.4 164.8 L519.4 166.9 Z" fill="#18211e"/>
<path d="M514.8 165.8 L519.4 164.8 L519.4 166.9 Z" fill="#18211e"/>
<path d="M664.5 165.8 L659.9 166.9 L659.9 164.8 Z" fill="#18211e"/>
<path d="M664.5 165.8 L659.9 166.9 L659.9 164.8 Z" fill="#18211e"/>
<path d="M677.5 165.8 L682.1 164.8 L682.1 166.9 Z" fill="#18211e"/>
<text x="509.6" y="163.3" font-size="11" text-anchor="middle">12</text>
<text x="589.8" y="163.3" font-size="11" text-anchor="middle">W</text>
<text x="686.6" y="163.3" font-size="11" text-anchor="middle">16</text>
<line x1="677.5" y1="180.0" x2="731.0" y2="180.0" stroke="#18211e" stroke-width="0.8"/>
<line x1="642.9" y1="351.6" x2="731.0" y2="351.6" stroke="#18211e" stroke-width="0.8"/>
<line x1="729.4" y1="180.0" x2="729.4" y2="351.6" stroke="#18211e" stroke-width="0.8"/>
<path d="M729.4 180.0 L730.4 184.6 L728.4 184.6 Z" fill="#18211e"/>
<path d="M729.4 351.6 L728.4 347.0 L730.4 347.0 Z" fill="#18211e"/>
<text x="721.2" y="272.8" font-size="11" text-anchor="middle" transform="rotate(-90 721.2 268.8)">256</text>
<line x1="680.4" y1="268.6" x2="680.4" y2="351.6" stroke="#18211e" stroke-width="0.8"/>
<path d="M680.4 268.6 L681.4 273.2 L679.4 273.2 Z" fill="#18211e"/>
<path d="M680.4 351.6 L679.4 347.0 L681.4 347.0 Z" fill="#18211e"/>
<text x="674.6" y="317.5" font-size="11" text-anchor="middle" transform="rotate(-90 674.6 313.5)"><tspan font-size="8">□</tspan>146</text>
<path d="M101.3 786.1 L101.3 779.6 A45.3 45.3 0 1 1 154.5 779.6 L154.5 786.1" fill="none" stroke="#18211e" stroke-width="1.3"/>
<path d="M104.8 778.4 L104.8 773.6 L114.2 773.6 L114.2 728.7 L142.4 728.7 L142.4 773.6 L151.9 773.6 L151.9 778.4" fill="none" stroke="#18211e" stroke-width="1.04" stroke-linejoin="miter"/>
<rect x="105.6" y="774.2" width="7.8" height="4.0" fill="#18211e" stroke="#18211e" stroke-width="0.6"/>
<rect x="143.2" y="774.2" width="7.9" height="4.0" fill="#18211e" stroke="#18211e" stroke-width="0.6"/>
<rect x="108.0" y="774.9" width="4.9" height="2.6" fill="#b3d1c6" stroke="#18211e" stroke-width="0.3"/>
<rect x="143.7" y="774.9" width="5.0" height="2.6" fill="#b3d1c6" stroke="#18211e" stroke-width="0.3"/>
<circle cx="127.9" cy="715.1" r="4.4" fill="none" stroke="#18211e" stroke-width="0.8"/>
<circle cx="127.9" cy="715.1" r="2.4" fill="none" stroke="#18211e" stroke-width="0.8"/>
<line x1="120.9" y1="715.1" x2="134.9" y2="715.1" stroke="#18211e" stroke-width="0.5" stroke-dasharray="2 1"/>
<circle cx="127.9" cy="742.9" r="8.0" fill="none" stroke="#18211e" stroke-width="0.9"/>
<path d="M132.2 742.9 L130.1 746.6 L125.8 746.6 L123.6 742.9 L125.8 739.2 L130.1 739.2 Z" fill="none" stroke="#18211e" stroke-width="0.8" stroke-linejoin="miter"/>
<path d="M83.2 737.6 L96.3 737.6 A5.4 5.4 0 0 1 96.3 748.5 L83.8 748.5" fill="none" stroke="#18211e" stroke-width="0.8"/>
<path d="M173.6 737.6 L160.2 737.6 A5.4 5.4 0 0 0 160.2 748.5 L173.6 748.5" fill="none" stroke="#18211e" stroke-width="0.8"/>
<path d="M173.8 738.6 L186.6 738.6 L189.6 741.7 L189.6 744.1 L186.6 746.9 L173.8 746.9 Z" fill="none" stroke="#18211e" stroke-width="1.3" stroke-linejoin="miter"/>
<line x1="176.8" y1="738.6" x2="176.8" y2="746.9" stroke="#18211e" stroke-width="0.6"/>
<line x1="186.6" y1="738.6" x2="186.6" y2="746.9" stroke="#18211e" stroke-width="0.6"/>
<line x1="80.6" y1="742.9" x2="191.6" y2="742.9" stroke="#18211e" stroke-width="0.75" stroke-dasharray="2.4 1.5"/>
<circle cx="137.8" cy="754.4" r="2.2" fill="#5a6b65" stroke="#18211e" stroke-width="0.8"/>
<line x1="137.8" y1="749.9" x2="137.8" y2="758.9" stroke="#18211e" stroke-width="0.5" stroke-dasharray="1.5 1"/>
<line x1="134.3" y1="754.4" x2="141.3" y2="754.4" stroke="#18211e" stroke-width="0.5"/>
<circle cx="109.0" cy="782.6" r="2.3" fill="none" stroke="#18211e" stroke-width="0.8"/>
<circle cx="109.0" cy="782.6" r="0.9" fill="#18211e" stroke="#18211e" stroke-width="0.6"/>
<circle cx="147.0" cy="782.6" r="2.3" fill="none" stroke="#18211e" stroke-width="0.8"/>
<circle cx="147.0" cy="782.6" r="0.9" fill="#18211e" stroke="#18211e" stroke-width="0.6"/>
<rect x="56.1" y="786.1" width="144.5" height="87.2" rx="5" fill="none" stroke="#18211e" stroke-width="1.3"/>
<circle cx="70.8" cy="799.7" r="7.7" fill="none" stroke="#18211e" stroke-width="0.8"/>
<line x1="60.6" y1="799.7" x2="81.0" y2="799.7" stroke="#18211e" stroke-width="0.5" stroke-dasharray="2 1.2"/>
<line x1="70.8" y1="789.5" x2="70.8" y2="809.9" stroke="#18211e" stroke-width="0.5" stroke-dasharray="2 1.2"/>
<circle cx="185.4" cy="799.7" r="7.7" fill="none" stroke="#18211e" stroke-width="0.8"/>
<line x1="175.2" y1="799.7" x2="195.6" y2="799.7" stroke="#18211e" stroke-width="0.5" stroke-dasharray="2 1.2"/>
<line x1="185.4" y1="789.5" x2="185.4" y2="809.9" stroke="#18211e" stroke-width="0.5" stroke-dasharray="2 1.2"/>
<circle cx="70.8" cy="860.2" r="7.7" fill="none" stroke="#18211e" stroke-width="0.8"/>
<line x1="60.6" y1="860.2" x2="81.0" y2="860.2" stroke="#18211e" stroke-width="0.5" stroke-dasharray="2 1.2"/>
<line x1="70.8" y1="850.0" x2="70.8" y2="870.4" stroke="#18211e" stroke-width="0.5" stroke-dasharray="2 1.2"/>
<circle cx="185.4" cy="860.2" r="7.7" fill="none" stroke="#18211e" stroke-width="0.8"/>
<line x1="175.2" y1="860.2" x2="195.6" y2="860.2" stroke="#18211e" stroke-width="0.5" stroke-dasharray="2 1.2"/>
<line x1="185.4" y1="850.0" x2="185.4" y2="870.4" stroke="#18211e" stroke-width="0.5" stroke-dasharray="2 1.2"/>
<circle cx="101.5" cy="804.0" r="12.4" fill="none" stroke="#18211e" stroke-width="0.8"/>
<path d="M109.1 808.4 L101.5 812.8 L93.9 808.4 L93.9 799.6 L101.5 795.2 L109.1 799.6 Z" fill="none" stroke="#18211e" stroke-width="1.2" stroke-linejoin="miter"/>
<circle cx="101.5" cy="804.0" r="4.6" fill="none" stroke="#18211e" stroke-width="1.2"/>
<circle cx="101.5" cy="804.0" r="3.1" fill="none" stroke="#18211e" stroke-width="0.6"/>
<line x1="87.1" y1="804.0" x2="115.9" y2="804.0" stroke="#18211e" stroke-width="0.5" stroke-dasharray="2 1.2"/>
<line x1="101.5" y1="789.6" x2="101.5" y2="818.4" stroke="#18211e" stroke-width="0.5" stroke-dasharray="2 1.2"/>
<circle cx="153.7" cy="804.0" r="12.4" fill="none" stroke="#18211e" stroke-width="0.8"/>
<path d="M161.3 808.4 L153.7 812.8 L146.1 808.4 L146.1 799.6 L153.7 795.2 L161.3 799.6 Z" fill="none" stroke="#18211e" stroke-width="1.2" stroke-linejoin="miter"/>
<circle cx="153.7" cy="804.0" r="4.6" fill="none" stroke="#18211e" stroke-width="1.2"/>
<circle cx="153.7" cy="804.0" r="3.1" fill="none" stroke="#18211e" stroke-width="0.6"/>
<line x1="139.3" y1="804.0" x2="168.1" y2="804.0" stroke="#18211e" stroke-width="0.5" stroke-dasharray="2 1.2"/>
<line x1="153.7" y1="789.6" x2="153.7" y2="818.4" stroke="#18211e" stroke-width="0.5" stroke-dasharray="2 1.2"/>
<circle cx="101.5" cy="855.8" r="12.4" fill="none" stroke="#18211e" stroke-width="0.8"/>
<path d="M109.1 860.2 L101.5 864.6 L93.9 860.2 L93.9 851.4 L101.5 847.0 L109.1 851.4 Z" fill="none" stroke="#18211e" stroke-width="1.2" stroke-linejoin="miter"/>
<circle cx="101.5" cy="855.8" r="4.6" fill="none" stroke="#18211e" stroke-width="1.2"/>
<circle cx="101.5" cy="855.8" r="3.1" fill="none" stroke="#18211e" stroke-width="0.6"/>
<line x1="87.1" y1="855.8" x2="115.9" y2="855.8" stroke="#18211e" stroke-width="0.5" stroke-dasharray="2 1.2"/>
<line x1="101.5" y1="841.4" x2="101.5" y2="870.2" stroke="#18211e" stroke-width="0.5" stroke-dasharray="2 1.2"/>
<circle cx="153.7" cy="855.8" r="12.4" fill="none" stroke="#18211e" stroke-width="0.8"/>
<path d="M161.3 860.2 L153.7 864.6 L146.1 860.2 L146.1 851.4 L153.7 847.0 L161.3 851.4 Z" fill="none" stroke="#18211e" stroke-width="1.2" stroke-linejoin="miter"/>
<circle cx="153.7" cy="855.8" r="4.6" fill="none" stroke="#18211e" stroke-width="1.2"/>
<circle cx="153.7" cy="855.8" r="3.1" fill="none" stroke="#18211e" stroke-width="0.6"/>
<line x1="139.3" y1="855.8" x2="168.1" y2="855.8" stroke="#18211e" stroke-width="0.5" stroke-dasharray="2 1.2"/>
<line x1="153.7" y1="841.4" x2="153.7" y2="870.2" stroke="#18211e" stroke-width="0.5" stroke-dasharray="2 1.2"/>
<circle cx="127.9" cy="829.8" r="22.4" fill="none" stroke="#18211e" stroke-width="0.9"/>
<circle cx="127.9" cy="829.8" r="14.8" fill="none" stroke="#18211e" stroke-width="1.2"/>
<circle cx="127.9" cy="829.8" r="11.6" fill="none" stroke="#18211e" stroke-width="1.2"/>
<line x1="40.1" y1="829.8" x2="204.1" y2="829.8" stroke="#18211e" stroke-width="0.75" stroke-dasharray="2.4 1.5"/>
<line x1="127.9" y1="698.0" x2="127.9" y2="876.0" stroke="#18211e" stroke-width="0.75" stroke-dasharray="2.4 1.5"/>
<line x1="25.3" y1="786.1" x2="56.0" y2="786.1" stroke="#18211e" stroke-width="0.8"/>
<line x1="25.3" y1="873.3" x2="58.0" y2="873.3" stroke="#18211e" stroke-width="0.8"/>
<line x1="26.5" y1="786.1" x2="26.5" y2="873.3" stroke="#18211e" stroke-width="0.8"/>
<path d="M26.5 786.1 L27.6 790.7 L25.4 790.7 Z" fill="#18211e"/>
<path d="M26.5 873.3 L25.4 868.7 L27.6 868.7 Z" fill="#18211e"/>
<text x="19.9" y="835.6" font-size="11" text-anchor="middle" transform="rotate(-90 19.9 831.6)">165</text>
<line x1="43.2" y1="799.7" x2="62.5" y2="799.7" stroke="#18211e" stroke-width="0.8"/>
<line x1="43.2" y1="860.0" x2="62.5" y2="860.0" stroke="#18211e" stroke-width="0.8"/>
<line x1="44.4" y1="799.7" x2="44.4" y2="860.0" stroke="#18211e" stroke-width="0.8"/>
<path d="M44.4 799.7 L45.4 804.3 L43.4 804.3 Z" fill="#18211e"/>
<path d="M44.4 860.0 L43.4 855.4 L45.4 855.4 Z" fill="#18211e"/>
<text x="37.6" y="835.4" font-size="11" text-anchor="middle" transform="rotate(-90 37.6 831.4)">115</text>
<line x1="70.8" y1="868.0" x2="70.8" y2="897.6" stroke="#18211e" stroke-width="0.8"/>
<line x1="185.4" y1="868.0" x2="185.4" y2="897.6" stroke="#18211e" stroke-width="0.8"/>
<line x1="70.8" y1="896.2" x2="185.4" y2="896.2" stroke="#18211e" stroke-width="0.8"/>
<path d="M70.8 896.2 L75.4 895.2 L75.4 897.2 Z" fill="#18211e"/>
<path d="M185.4 896.2 L180.8 897.2 L180.8 895.2 Z" fill="#18211e"/>
<text x="127.2" y="892.9" font-size="11" text-anchor="middle">215</text>
<line x1="56.1" y1="869.0" x2="56.1" y2="915.0" stroke="#18211e" stroke-width="0.8"/>
<line x1="200.6" y1="869.0" x2="200.6" y2="915.0" stroke="#18211e" stroke-width="0.8"/>
<line x1="56.1" y1="913.6" x2="200.6" y2="913.6" stroke="#18211e" stroke-width="0.8"/>
<path d="M56.1 913.6 L60.7 912.6 L60.7 914.6 Z" fill="#18211e"/>
<path d="M200.6 913.6 L196.0 914.6 L196.0 912.6 Z" fill="#18211e"/>
<text x="127.2" y="910.5" font-size="11" text-anchor="middle">260</text>
<line x1="173.5" y1="810.0" x2="219.5" y2="771.0" stroke="#18211e" stroke-width="0.8"/>
<path d="M179.4 805.0 L181.8 801.6 L183.1 803.2 Z" fill="#18211e"/>
<path d="M191.2 795.0 L188.8 798.4 L187.5 796.8 Z" fill="#18211e"/>
<text x="205.4" y="777.4" font-size="11" text-anchor="middle" transform="rotate(-40.5 205.4 773.4)"><tspan font-size="9.5" font-style="italic">ϕ</tspan> 26</text>
<rect x="333.8" y="610.3" width="20.0" height="86.7" fill="none" stroke="#18211e" stroke-width="1.3"/>
<path d="M333.8 631.8 L326.0 631.8 L326.0 675.7 L333.8 675.7" fill="none" stroke="#18211e" stroke-width="1.3" stroke-linejoin="miter"/>
<path d="M281.5 639.6 H326.0 V668.0 H281.5 Z M281.5 645.8 V661.7 H320.2 V645.8 Z" fill="url(#hatch)" fill-rule="evenodd" stroke="none"/>
<rect x="281.5" y="639.6" width="44.5" height="28.4" fill="none" stroke="#18211e" stroke-width="1.3"/>
<path d="M281.5 645.8 L320.2 645.8 L320.2 661.7 L281.5 661.7" fill="none" stroke="#18211e" stroke-width="1.3" stroke-linejoin="miter"/>
<line x1="280.0" y1="653.8" x2="359.8" y2="653.8" stroke="#18211e" stroke-width="0.75" stroke-dasharray="2.4 1.5"/>
<circle cx="296.8" cy="653.8" r="3.4" fill="none" stroke="#18211e" stroke-width="1.0"/>
<circle cx="296.8" cy="653.8" r="1.3" fill="none" stroke="#18211e" stroke-width="0.7"/>
<rect x="294.0" y="639.6" width="5.6" height="6.2" fill="#b3d1c6" stroke="#18211e" stroke-width="0.6"/>
<line x1="295.2" y1="640.6" x2="295.2" y2="645.8" stroke="#18211e" stroke-width="0.5"/>
<line x1="298.4" y1="640.6" x2="298.4" y2="645.8" stroke="#18211e" stroke-width="0.5"/>
<line x1="281.5" y1="615.0" x2="281.5" y2="639.6" stroke="#18211e" stroke-width="0.8"/>
<line x1="297.4" y1="615.0" x2="297.4" y2="639.6" stroke="#18211e" stroke-width="0.8"/>
<line x1="281.5" y1="616.8" x2="297.4" y2="616.8" stroke="#18211e" stroke-width="0.8"/>
<path d="M281.5 616.8 L286.1 615.8 L286.1 617.8 Z" fill="#18211e"/>
<path d="M297.4 616.8 L292.8 617.8 L292.8 615.8 Z" fill="#18211e"/>
<text x="289.0" y="613.6" font-size="11" text-anchor="middle">20</text>
<text x="245.0" y="608.8" font-size="11" text-anchor="middle">M10*1.5</text>
<line x1="221.5" y1="610.6" x2="267.5" y2="610.6" stroke="#18211e" stroke-width="0.8"/>
<line x1="267.5" y1="610.6" x2="296.6" y2="639.6" stroke="#18211e" stroke-width="0.8"/>
<line x1="247.5" y1="639.6" x2="281.5" y2="639.6" stroke="#18211e" stroke-width="0.8"/>
<line x1="247.5" y1="668.0" x2="281.5" y2="668.0" stroke="#18211e" stroke-width="0.8"/>
<line x1="248.7" y1="639.6" x2="248.7" y2="668.0" stroke="#18211e" stroke-width="0.8"/>
<path d="M248.7 639.6 L249.8 644.2 L247.6 644.2 Z" fill="#18211e"/>
<path d="M248.7 668.0 L247.6 663.4 L249.8 663.4 Z" fill="#18211e"/>
<text x="240.0" y="658.4" font-size="11" text-anchor="middle" transform="rotate(-90 240.0 654.4)"><tspan font-size="9.5" font-style="italic">ϕ</tspan> 56</text>
<line x1="269.0" y1="645.8" x2="281.5" y2="645.8" stroke="#18211e" stroke-width="0.8"/>
<line x1="269.0" y1="661.7" x2="281.5" y2="661.7" stroke="#18211e" stroke-width="0.8"/>
<line x1="270.2" y1="645.8" x2="270.2" y2="728.0" stroke="#18211e" stroke-width="0.8"/>
<path d="M270.2 645.8 L271.2 650.4 L269.1 650.4 Z" fill="#18211e"/>
<path d="M270.2 661.7 L269.1 657.1 L271.2 657.1 Z" fill="#18211e"/>
<text x="262.3" y="705.4" font-size="11" text-anchor="middle" transform="rotate(-90 262.3 701.4)"><tspan font-size="9.5" font-style="italic">ϕ</tspan> 25(H7)</text>
<line x1="281.5" y1="668.0" x2="281.5" y2="749.2" stroke="#18211e" stroke-width="0.8"/>
<line x1="320.2" y1="661.7" x2="320.2" y2="706.0" stroke="#18211e" stroke-width="0.8"/>
<line x1="281.5" y1="704.6" x2="320.2" y2="704.6" stroke="#18211e" stroke-width="0.8"/>
<path d="M281.5 704.6 L286.1 703.6 L286.1 705.6 Z" fill="#18211e"/>
<path d="M320.2 704.6 L315.6 705.6 L315.6 703.6 Z" fill="#18211e"/>
<text x="300.4" y="702.2" font-size="11" text-anchor="middle">48</text>
<line x1="326.0" y1="675.7" x2="326.0" y2="727.6" stroke="#18211e" stroke-width="0.8"/>
<line x1="281.5" y1="726.3" x2="326.0" y2="726.3" stroke="#18211e" stroke-width="0.8"/>
<path d="M281.5 726.3 L286.1 725.2 L286.1 727.3 Z" fill="#18211e"/>
<path d="M326.0 726.3 L321.4 727.3 L321.4 725.2 Z" fill="#18211e"/>
<text x="302.2" y="723.7" font-size="11" text-anchor="middle">81</text>
<line x1="333.8" y1="697.0" x2="333.8" y2="749.2" stroke="#18211e" stroke-width="0.8"/>
<line x1="353.8" y1="697.0" x2="353.8" y2="749.2" stroke="#18211e" stroke-width="0.8"/>
<line x1="281.5" y1="747.9" x2="353.8" y2="747.9" stroke="#18211e" stroke-width="0.8"/>
<path d="M281.5 747.9 L286.1 746.9 L286.1 748.9 Z" fill="#18211e"/>
<path d="M333.8 747.9 L329.2 748.9 L329.2 746.9 Z" fill="#18211e"/>
<path d="M333.8 747.9 L338.4 746.9 L338.4 748.9 Z" fill="#18211e"/>
<path d="M353.8 747.9 L349.2 748.9 L349.2 746.9 Z" fill="#18211e"/>
<text x="306.8" y="746.4" font-size="11" text-anchor="middle">90</text>
<text x="343.8" y="746.4" font-size="11" text-anchor="middle">31</text>
<rect x="333.7" y="786.9" width="19.5" height="86.9" fill="none" stroke="#18211e" stroke-width="1.3"/>
<path d="M333.7 807.2 L326.3 807.2 L326.3 852.6 L333.7 852.6" fill="none" stroke="#18211e" stroke-width="1.3" stroke-linejoin="miter"/>
<path d="M326.3 816.2 L309.6 816.2 L309.6 844.2 L326.3 844.2" fill="none" stroke="#18211e" stroke-width="0.8" stroke-linejoin="miter"/>
<rect x="281.8" y="817.9" width="25.3" height="23.9" fill="none" stroke="#18211e" stroke-width="1.4300000000000002"/>
<line x1="307.1" y1="817.9" x2="309.6" y2="817.9" stroke="#18211e" stroke-width="0.7"/>
<line x1="307.1" y1="841.8" x2="309.6" y2="841.8" stroke="#18211e" stroke-width="0.7"/>
<line x1="283.4" y1="817.9" x2="283.4" y2="841.8" stroke="#18211e" stroke-width="0.5"/>
<line x1="305.5" y1="817.9" x2="305.5" y2="841.8" stroke="#18211e" stroke-width="0.5"/>
<path d="M309.6 822.3 H318.3 Q322.0 829.8 318.3 837.5 H309.6 Z" fill="none" stroke="#18211e" stroke-width="0.9"/>
<line x1="309.6" y1="822.3" x2="318.8" y2="837.5" stroke="#18211e" stroke-width="0.7"/>
<line x1="309.6" y1="837.5" x2="318.8" y2="822.3" stroke="#18211e" stroke-width="0.7"/>
<line x1="353.2" y1="799.4" x2="475.8" y2="799.4" stroke="#18211e" stroke-width="1.3"/>
<line x1="353.2" y1="810.5" x2="475.8" y2="810.5" stroke="#18211e" stroke-width="0.8"/>
<line x1="353.2" y1="849.3" x2="475.8" y2="849.3" stroke="#18211e" stroke-width="0.8"/>
<line x1="353.2" y1="860.4" x2="475.8" y2="860.4" stroke="#18211e" stroke-width="1.3"/>
<line x1="464.4" y1="799.4" x2="464.4" y2="810.5" stroke="#18211e" stroke-width="0.8"/>
<line x1="464.4" y1="849.3" x2="464.4" y2="860.4" stroke="#18211e" stroke-width="0.8"/>
<line x1="378.5" y1="810.5" x2="378.5" y2="849.3" stroke="#18211e" stroke-width="0.8"/>
<circle cx="366.7" cy="829.8" r="6.6" fill="none" stroke="#18211e" stroke-width="1.2"/>
<line x1="366.7" y1="824.2" x2="366.7" y2="835.4" stroke="#18211e" stroke-width="0.5"/>
<rect x="357.0" y="857.4" width="4.4" height="3.0" fill="none" stroke="#18211e" stroke-width="0.6"/>
<line x1="358.2" y1="845.3" x2="358.2" y2="857.4" stroke="#18211e" stroke-width="0.5" stroke-dasharray="1.2 1"/>
<line x1="360.2" y1="845.3" x2="360.2" y2="857.4" stroke="#18211e" stroke-width="0.5" stroke-dasharray="1.2 1"/>
<rect x="476.2" y="787.9" width="162.3" height="83.6" fill="none" stroke="#18211e" stroke-width="1.1700000000000002"/>
<line x1="517.3" y1="787.9" x2="517.3" y2="871.5" stroke="#18211e" stroke-width="0.9"/>
<line x1="621.0" y1="787.9" x2="621.0" y2="871.5" stroke="#18211e" stroke-width="1.3"/>
<line x1="621.0" y1="787.9" x2="621.0" y2="871.5" stroke="#18211e" stroke-width="0.8"/>
<circle cx="493.7" cy="829.8" r="6.6" fill="none" stroke="#18211e" stroke-width="1.2"/>
<circle cx="629.4" cy="829.8" r="6.6" fill="none" stroke="#18211e" stroke-width="1.2"/>
<line x1="493.7" y1="826.8" x2="493.7" y2="832.8" stroke="#18211e" stroke-width="0.5"/>
<line x1="490.7" y1="829.8" x2="496.7" y2="829.8" stroke="#18211e" stroke-width="0.5"/>
<line x1="629.4" y1="821.8" x2="629.4" y2="838.8" stroke="#18211e" stroke-width="0.5" stroke-dasharray="3 1.2"/>
<line x1="626.4" y1="829.8" x2="632.4" y2="829.8" stroke="#18211e" stroke-width="0.5"/>
<line x1="483.6" y1="788.9" x2="483.6" y2="816.5" stroke="#18211e" stroke-width="0.6" stroke-dasharray="1.6 1.2"/>
<line x1="486.9" y1="788.9" x2="486.9" y2="816.5" stroke="#18211e" stroke-width="0.6" stroke-dasharray="1.6 1.2"/>
<line x1="495.4" y1="788.9" x2="495.4" y2="816.5" stroke="#18211e" stroke-width="0.6" stroke-dasharray="1.6 1.2"/>
<line x1="498.7" y1="788.9" x2="498.7" y2="816.5" stroke="#18211e" stroke-width="0.6" stroke-dasharray="1.6 1.2"/>
<line x1="491.1" y1="788.9" x2="491.1" y2="822.2" stroke="#18211e" stroke-width="0.5" stroke-dasharray="1.6 1.2"/>
<path d="M482.7 788.9 L484.5 790.5 L482.7 792.1 L484.5 793.7 L482.7 795.3 L484.5 796.9 L482.7 798.5 L484.5 800.1" fill="none" stroke="#18211e" stroke-width="0.5" stroke-linejoin="miter"/>
<path d="M497.8 788.9 L499.6 790.5 L497.8 792.1 L499.6 793.7 L497.8 795.3 L499.6 796.9 L497.8 798.5 L499.6 800.1" fill="none" stroke="#18211e" stroke-width="0.5" stroke-linejoin="miter"/>
<path d="M489.6 871.5 L489.6 863.0 L499.8 863.0 L499.8 871.5" fill="none" stroke="#18211e" stroke-width="0.8" stroke-linejoin="miter" stroke-dasharray="1.6 1"/>
<line x1="493.1" y1="843.4" x2="493.1" y2="863.0" stroke="#18211e" stroke-width="0.5" stroke-dasharray="1.4 1.1"/>
<line x1="496.3" y1="843.4" x2="496.3" y2="863.0" stroke="#18211e" stroke-width="0.5" stroke-dasharray="1.4 1.1"/>
<line x1="494.7" y1="838.4" x2="494.7" y2="863.0" stroke="#18211e" stroke-width="0.5" stroke-dasharray="1.4 1.1"/>
<rect x="499.7" y="697.6" width="9.8" height="90.3" fill="none" stroke="#18211e" stroke-width="1.3"/>
<rect x="661.1" y="697.6" width="12.8" height="90.3" fill="none" stroke="#18211e" stroke-width="1.3"/>
<line x1="509.5" y1="699.4" x2="661.1" y2="699.4" stroke="#18211e" stroke-width="1.3"/>
<line x1="509.5" y1="786.2" x2="661.1" y2="786.2" stroke="#18211e" stroke-width="1.1700000000000002"/>
<path d="M499.7 728.9 L472.8 728.9 L472.8 787.9 L499.7 787.9" fill="none" stroke="#18211e" stroke-width="1.3" stroke-linejoin="miter"/>
<line x1="472.8" y1="777.8" x2="499.7" y2="777.8" stroke="#18211e" stroke-width="0.8"/>
<rect x="487.7" y="774.2" width="7.0" height="3.6" fill="#4a5a54" stroke="#18211e" stroke-width="0.6"/>
<rect x="491.2" y="775.2" width="2.7" height="1.8" fill="#b3d1c6" stroke="#18211e" stroke-width="0.3"/>
<path d="M520.6 738.9 H497.7 A4.0 4.0 0 0 0 497.7 746.9 H520.6" fill="none" stroke="#18211e" stroke-width="1.0"/>
<path d="M648.6 738.9 H669.5 Q672.5 742.9 669.5 746.9 H648.6" fill="none" stroke="#18211e" stroke-width="1.0"/>
<line x1="520.6" y1="738.9" x2="648.6" y2="738.9" stroke="#18211e" stroke-width="1.0"/>
<line x1="520.6" y1="746.9" x2="648.6" y2="746.9" stroke="#18211e" stroke-width="1.0"/>
<line x1="485.7" y1="742.9" x2="691.0" y2="742.9" stroke="#18211e" stroke-width="0.6" stroke-dasharray="3 1.2 1.2 1.2"/>
<rect x="512.2" y="737.1" width="8.4" height="11.6" rx="1" fill="#b3d1c6" stroke="#18211e" stroke-width="0.9"/>
<line x1="514.4" y1="737.1" x2="514.4" y2="748.7" stroke="#18211e" stroke-width="0.6"/>
<line x1="518.4" y1="737.1" x2="518.4" y2="748.7" stroke="#18211e" stroke-width="0.6"/>
<line x1="512.2" y1="742.9" x2="520.6" y2="742.9" stroke="#18211e" stroke-width="0.5" stroke-dasharray="1.5 1"/>
<rect x="648.6" y="737.1" width="8.0" height="11.6" rx="1" fill="#b3d1c6" stroke="#18211e" stroke-width="0.9"/>
<line x1="650.8" y1="737.1" x2="650.8" y2="748.7" stroke="#18211e" stroke-width="0.6"/>
<line x1="654.4" y1="737.1" x2="654.4" y2="748.7" stroke="#18211e" stroke-width="0.6"/>
<line x1="648.6" y1="742.9" x2="656.6" y2="742.9" stroke="#18211e" stroke-width="0.5" stroke-dasharray="1.5 1"/>
<path d="M674.6 732.3 L683.5 732.3 L685.0 733.8 L685.0 752.7 L683.5 754.2 L674.6 754.2 Z" fill="none" stroke="#18211e" stroke-width="1.0" stroke-linejoin="miter"/>
<line x1="674.6" y1="738.2" x2="685.0" y2="738.2" stroke="#18211e" stroke-width="0.7"/>
<line x1="674.6" y1="748.3" x2="685.0" y2="748.3" stroke="#18211e" stroke-width="0.7"/>
<path d="M674.6 703.7 L679.5 705.2 L681.0 707.7 L681.0 716.5 L679.5 719.0 L674.6 720.5" fill="none" stroke="#18211e" stroke-width="1.1" stroke-linejoin="miter"/>
<ellipse cx="677.5" cy="712.1" rx="1.7" ry="4.2" fill="#74867f" stroke="#18211e" stroke-width="1"/>
<line x1="276.5" y1="829.8" x2="643.6" y2="829.8" stroke="#18211e" stroke-width="0.75" stroke-dasharray="2.4 1.5"/>
<line x1="225.6" y1="807.2" x2="326.3" y2="807.2" stroke="#18211e" stroke-width="0.8"/>
<line x1="225.6" y1="852.6" x2="326.3" y2="852.6" stroke="#18211e" stroke-width="0.8"/>
<line x1="226.8" y1="807.2" x2="226.8" y2="852.6" stroke="#18211e" stroke-width="0.8"/>
<path d="M226.8 807.2 L227.9 811.8 L225.8 811.8 Z" fill="#18211e"/>
<path d="M226.8 852.6 L225.8 848.0 L227.9 848.0 Z" fill="#18211e"/>
<text x="220.2" y="833.6" font-size="11" text-anchor="middle" transform="rotate(-90 220.2 829.6)"><tspan font-size="9.5" font-style="italic">ϕ</tspan> 80</text>
<line x1="244.2" y1="816.2" x2="309.6" y2="816.2" stroke="#18211e" stroke-width="0.8"/>
<line x1="244.2" y1="844.2" x2="309.6" y2="844.2" stroke="#18211e" stroke-width="0.8"/>
<line x1="245.5" y1="816.2" x2="245.5" y2="844.2" stroke="#18211e" stroke-width="0.8"/>
<path d="M245.5 816.2 L246.6 820.8 L244.4 820.8 Z" fill="#18211e"/>
<path d="M245.5 844.2 L244.4 839.6 L246.6 839.6 Z" fill="#18211e"/>
<text x="236.6" y="833.6" font-size="11" text-anchor="middle" transform="rotate(-90 236.6 829.6)"><tspan font-size="9.5" font-style="italic">ϕ</tspan> 56</text>
<line x1="266.2" y1="817.9" x2="281.8" y2="817.9" stroke="#18211e" stroke-width="0.8"/>
<line x1="266.2" y1="841.8" x2="281.8" y2="841.8" stroke="#18211e" stroke-width="0.8"/>
<line x1="267.4" y1="817.9" x2="267.4" y2="908.4" stroke="#18211e" stroke-width="0.8"/>
<path d="M267.4 817.9 L268.4 822.5 L266.3 822.5 Z" fill="#18211e"/>
<path d="M267.4 841.8 L266.3 837.2 L268.4 837.2 Z" fill="#18211e"/>
<text x="260.6" y="888.6" font-size="11" text-anchor="middle" transform="rotate(-90 260.6 884.6)">M48*1.5</text>
<text x="282.6" y="790.2" font-size="11" text-anchor="middle">SW50</text>
<line x1="265.7" y1="792.6" x2="299.4" y2="792.6" stroke="#18211e" stroke-width="0.8"/>
<line x1="299.4" y1="792.6" x2="313.0" y2="822.8" stroke="#18211e" stroke-width="0.8"/>
<line x1="281.8" y1="841.8" x2="281.8" y2="954.2" stroke="#18211e" stroke-width="0.8"/>
<line x1="309.6" y1="844.2" x2="309.6" y2="908.6" stroke="#18211e" stroke-width="0.8"/>
<line x1="326.3" y1="852.6" x2="326.3" y2="908.6" stroke="#18211e" stroke-width="0.8"/>
<line x1="281.8" y1="907.2" x2="326.3" y2="907.2" stroke="#18211e" stroke-width="0.8"/>
<path d="M281.8 907.2 L286.4 906.2 L286.4 908.2 Z" fill="#18211e"/>
<path d="M309.6 907.2 L305.0 908.2 L305.0 906.2 Z" fill="#18211e"/>
<path d="M309.6 907.2 L314.2 906.2 L314.2 908.2 Z" fill="#18211e"/>
<path d="M326.3 907.2 L321.7 908.2 L321.7 906.2 Z" fill="#18211e"/>
<text x="295.4" y="904.2" font-size="11" text-anchor="middle">55</text>
<text x="317.6" y="904.2" font-size="11" text-anchor="middle">26</text>
<line x1="333.7" y1="873.8" x2="333.7" y2="930.8" stroke="#18211e" stroke-width="0.8"/>
<line x1="353.2" y1="873.8" x2="353.2" y2="930.8" stroke="#18211e" stroke-width="0.8"/>
<line x1="476.2" y1="871.5" x2="476.2" y2="930.8" stroke="#18211e" stroke-width="0.8"/>
<line x1="517.3" y1="871.5" x2="517.3" y2="930.8" stroke="#18211e" stroke-width="0.8"/>
<line x1="621.0" y1="871.5" x2="621.0" y2="930.8" stroke="#18211e" stroke-width="0.8"/>
<line x1="638.5" y1="871.5" x2="638.5" y2="954.2" stroke="#18211e" stroke-width="0.8"/>
<line x1="281.8" y1="929.4" x2="638.5" y2="929.4" stroke="#18211e" stroke-width="0.8"/>
<path d="M333.7 929.4 L329.1 930.4 L329.1 928.4 Z" fill="#18211e"/>
<path d="M333.7 929.4 L338.3 928.4 L338.3 930.4 Z" fill="#18211e"/>
<path d="M353.2 929.4 L348.6 930.4 L348.6 928.4 Z" fill="#18211e"/>
<path d="M353.2 929.4 L357.8 928.4 L357.8 930.4 Z" fill="#18211e"/>
<path d="M476.2 929.4 L471.6 930.4 L471.6 928.4 Z" fill="#18211e"/>
<path d="M476.2 929.4 L480.8 928.4 L480.8 930.4 Z" fill="#18211e"/>
<path d="M517.3 929.4 L512.7 930.4 L512.7 928.4 Z" fill="#18211e"/>
<path d="M517.3 929.4 L521.9 928.4 L521.9 930.4 Z" fill="#18211e"/>
<path d="M621.0 929.4 L616.4 930.4 L616.4 928.4 Z" fill="#18211e"/>
<path d="M621.0 929.4 L625.6 928.4 L625.6 930.4 Z" fill="#18211e"/>
<path d="M281.8 929.4 L286.4 928.4 L286.4 930.4 Z" fill="#18211e"/>
<path d="M638.5 929.4 L633.9 930.4 L633.9 928.4 Z" fill="#18211e"/>
<text x="307.2" y="926.6" font-size="11" text-anchor="middle">90</text>
<text x="343.2" y="926.6" font-size="11" text-anchor="middle">31</text>
<text x="415.0" y="926.6" font-size="11" text-anchor="middle">B</text>
<text x="496.4" y="926.6" font-size="11" text-anchor="middle">49</text>
<text x="569.5" y="926.6" font-size="11" text-anchor="middle">C</text>
<text x="629.6" y="926.6" font-size="11" text-anchor="middle">30</text>
<line x1="281.8" y1="952.8" x2="638.5" y2="952.8" stroke="#18211e" stroke-width="0.8"/>
<path d="M281.8 952.8 L286.4 951.8 L286.4 953.8 Z" fill="#18211e"/>
<path d="M638.5 952.8 L633.9 953.8 L633.9 951.8 Z" fill="#18211e"/>
<text x="457.8" y="949.2" font-size="11" text-anchor="middle">A+B+C</text>
<text x="394.6" y="843.2" font-size="11" text-anchor="middle">(2)</text>
<line x1="386.9" y1="845.3" x2="402.2" y2="845.3" stroke="#18211e" stroke-width="0.8"/>
<line x1="386.9" y1="845.3" x2="373.0" y2="832.4" stroke="#18211e" stroke-width="0.8"/>
<text x="380.9" y="878.4" font-size="11" text-anchor="middle">(1)</text>
<line x1="373.5" y1="881.3" x2="387.8" y2="881.3" stroke="#18211e" stroke-width="0.8"/>
<line x1="373.5" y1="881.3" x2="359.6" y2="861.0" stroke="#18211e" stroke-width="0.8"/>
<text x="529.0" y="812.8" font-size="11" text-anchor="middle">(3)</text>
<line x1="521.6" y1="815.5" x2="536.0" y2="815.5" stroke="#18211e" stroke-width="0.8"/>
<line x1="521.6" y1="815.5" x2="499.6" y2="828.0" stroke="#18211e" stroke-width="0.8"/>
<text x="652.0" y="817.0" font-size="11" text-anchor="middle">(5)</text>
<line x1="644.6" y1="820.0" x2="659.6" y2="820.0" stroke="#18211e" stroke-width="0.8"/>
<line x1="644.6" y1="820.0" x2="635.2" y2="828.0" stroke="#18211e" stroke-width="0.8"/>
<text x="531.4" y="887.2" font-size="11" text-anchor="middle">(4)</text>
<line x1="524.0" y1="890.0" x2="539.4" y2="890.0" stroke="#18211e" stroke-width="0.8"/>
<line x1="524.0" y1="890.0" x2="496.2" y2="872.0" stroke="#18211e" stroke-width="0.8"/>
<text x="707.0" y="687.5" font-size="11" text-anchor="middle">(6)</text>
<line x1="699.2" y1="690.9" x2="714.4" y2="690.9" stroke="#18211e" stroke-width="0.8"/>
<line x1="699.2" y1="690.9" x2="679.2" y2="713.8" stroke="#18211e" stroke-width="0.8"/>
<text x="710.0" y="758.2" font-size="11" text-anchor="middle">(7)</text>
<line x1="701.8" y1="761.0" x2="717.8" y2="761.0" stroke="#18211e" stroke-width="0.8"/>
<line x1="701.8" y1="761.0" x2="685.0" y2="743.2" stroke="#18211e" stroke-width="0.8"/>
<line x1="499.7" y1="682.0" x2="499.7" y2="697.6" stroke="#18211e" stroke-width="0.8"/>
<line x1="509.5" y1="682.0" x2="509.5" y2="697.6" stroke="#18211e" stroke-width="0.8"/>
<line x1="661.1" y1="682.0" x2="661.1" y2="697.6" stroke="#18211e" stroke-width="0.8"/>
<line x1="673.9" y1="682.0" x2="673.9" y2="697.6" stroke="#18211e" stroke-width="0.8"/>
<line x1="491.5" y1="683.5" x2="692.0" y2="683.5" stroke="#18211e" stroke-width="0.8"/>
<path d="M499.7 683.5 L495.1 684.5 L495.1 682.5 Z" fill="#18211e"/>
<path d="M509.5 683.5 L514.1 682.5 L514.1 684.5 Z" fill="#18211e"/>
<path d="M661.1 683.5 L656.5 684.5 L656.5 682.5 Z" fill="#18211e"/>
<path d="M673.9 683.5 L678.5 682.5 L678.5 684.5 Z" fill="#18211e"/>
<text x="503.8" y="680.4" font-size="11" text-anchor="middle">12</text>
<text x="586.4" y="680.4" font-size="11" text-anchor="middle">W</text>
<text x="684.0" y="680.4" font-size="11" text-anchor="middle">16</text>
<line x1="673.9" y1="697.6" x2="728.4" y2="697.6" stroke="#18211e" stroke-width="0.8"/>
<line x1="638.5" y1="871.2" x2="728.4" y2="871.2" stroke="#18211e" stroke-width="0.8"/>
<line x1="727.0" y1="697.6" x2="727.0" y2="871.2" stroke="#18211e" stroke-width="0.8"/>
<path d="M727.0 697.6 L728.0 702.2 L726.0 702.2 Z" fill="#18211e"/>
<path d="M727.0 871.2 L726.0 866.6 L728.0 866.6 Z" fill="#18211e"/>
<text x="718.6" y="789.6" font-size="11" text-anchor="middle" transform="rotate(-90 718.6 785.6)">290</text>
<line x1="676.9" y1="787.9" x2="676.9" y2="871.2" stroke="#18211e" stroke-width="0.8"/>
<path d="M676.9 787.9 L677.9 792.5 L675.9 792.5 Z" fill="#18211e"/>
<path d="M676.9 871.2 L675.9 866.6 L677.9 866.6 Z" fill="#18211e"/>
<text x="669.2" y="837.2" font-size="11" text-anchor="middle" transform="rotate(-90 669.2 833.2)"><tspan font-size="8">□</tspan>180</text>
</svg>
<div class="abs model" style="left:37.5px;top:71px">APT-12</div>
<div class="abs model" style="left:37.5px;top:581.7px">APT-16</div>
<div class="abs zh16" style="left:118.5px;top:99.5px;letter-spacing:0.4px">內孔式連接圖</div>
<div class="abs en11" style="left:120px;top:117.5px">Figure, Connection<br>of Inner Hole Type</div>
<div class="abs zh16" style="left:83.5px;top:618px;letter-spacing:0.4px">內孔式連接圖</div>
<div class="abs en11" style="left:84.6px;top:640.5px;word-spacing:3.6px;line-height:13.2px;font-size:10.5px;transform:scaleX(1.07)">Figure, Connection of<br>Inner Hole Type</div>
<div class="abs zh16" style="left:450.5px;top:70.6px">B、C段外徑可選配加裝磁感應開關</div>
<div class="abs en15" style="left:451px;top:91px">Magnetic sensors are optional for sections B and C.</div>
<div class="abs zh16" style="left:478px;top:594px">C段外徑可選配加裝磁感應開關</div>
<div class="abs en15" style="left:478px;top:612px">Magnetic sensor is optional on section C</div>
<div class="abs leg" style="left:734.5px;top:158.3px"><div><span class="n">(1)</span><span class="z">收油孔</span> &nbsp;-PT1/8</div><div><span class="n">(2)</span><span class="z">回程氣孔</span> &nbsp;-PT3/8</div><div><span class="n">(3)</span><span class="z">回程氣孔</span> &nbsp;-PT3/8</div><div><span class="n">(4)</span><span class="z">油表孔</span> &nbsp;-PT1/4</div><div><span class="n">(5)</span><span class="z">增壓氣孔</span> &nbsp;-PT3/8</div><div><span class="n">(6)</span><span class="z">加油孔</span> &nbsp;-M16*1.5</div><div><span class="n">(7)</span><span class="z">快進氣孔</span> &nbsp;-PT3/8</div><div style="height:5.2px"></div><div class="e" style="transform:scaleX(0.88)">1. Port, Oil, Return-PT1/8</div><div class="e" style="transform:scaleX(0.88)">2. Port, Air, Retract-PT3/8</div><div class="e" style="transform:scaleX(0.88)">3. Port, Air, Retract-PT3/8</div><div class="e" style="transform:scaleX(0.88)">4. Port, Oil Gauge-PT1/4</div><div class="e" style="transform:scaleX(0.88)">5. Port, Air, Boosting-PT3/8</div><div class="e" style="transform:scaleX(0.88)">6. Port, Refill Oil-M16*1.5</div><div class="e" style="transform:scaleX(0.81)">7. Port, Air, Fast Input-PT3/8</div></div>
<div class="abs leg" style="left:736.6px;top:662.2px"><div style="transform-origin:0 50%;transform:scaleX(0.925)"><span class="n">(1)</span><span class="z">收油孔</span> &nbsp;-PT1/8</div><div style="transform-origin:0 50%;transform:scaleX(0.925)"><span class="n">(2)</span><span class="z">回程氣孔</span> &nbsp;-PT1/2</div><div style="transform-origin:0 50%;transform:scaleX(0.925)"><span class="n">(3)</span><span class="z">回程氣孔</span> &nbsp;-PT1/2</div><div style="transform-origin:0 50%;transform:scaleX(0.925)"><span class="n">(4)</span><span class="z">油表孔</span> &nbsp;-PT1/4</div><div style="transform-origin:0 50%;transform:scaleX(0.925)"><span class="n">(5)</span><span class="z">增壓氣孔</span> &nbsp;-PT1/2</div><div style="transform-origin:0 50%;transform:scaleX(0.925)"><span class="n">(6)</span><span class="z">加油孔</span> &nbsp;-M16*1.5</div><div style="transform-origin:0 50%;transform:scaleX(0.925)"><span class="n">(7)</span><span class="z">快進氣孔</span> &nbsp;-PT3/8</div><div style="height:8.4px"></div><div class="e" style="transform:scaleX(0.87)">1. Port, Oil, Return-PT1/8</div><div class="e" style="transform:scaleX(0.87)">2. Port, Air, Retract-PT1/2</div><div class="e" style="transform:scaleX(0.87)">3. Port, Air, Retract-PT1/2</div><div class="e" style="transform:scaleX(0.87)">4. Port, Oil Gauge-PT1/4</div><div class="e" style="transform:scaleX(0.87)">5. Port, Air, Boosting-PT1/2</div><div class="e" style="transform:scaleX(0.87)">6. Port, Refill Oil-M16*1.5</div><div class="e" style="transform:scaleX(0.815)">7. Port, Air, Fast Input-PT3/8</div></div>
<table class="dt" style="top:443.5px"><colgroup><col style="width:96.5px"><col style="width:49.0px"><col style="width:38.5px"><col style="width:39px"><col style="width:38.5px"><col style="width:43.5px"><col style="width:44px"><col style="width:43.5px"><col style="width:43.0px"><col style="width:44.5px"><col style="width:46px"><col style="width:45px"><col style="width:44.5px"><col style="width:42.5px"><col style="width:48.5px"><col style="width:48.5px"><col style="width:48.5px"><col style="width:47.5px"></colgroup>
<tr class="h" style="height:19px"><td></td><td>(A)</td><td colspan="6">W</td><td colspan="6">(B)<span class="zl">前段油壓缸管長</span> &nbsp; <span style="font-size:10.2px">Length of Hydraulic Cylinder</span></td><td colspan="4" class="last">(C)<span class="zl">後段氣壓缸管長</span> <span class="cn">Length of Pneumatic Cylinder</span></td></tr>
<tr style="height:17px"><td rowspan="2" class="diag"><div class="dg" style="height:32.5px"><svg width="97" height="33.5" viewBox="0 0 97 33.5"><line x1="0" y1="-0.3" x2="95.5" y2="32.9" stroke="#1f2a26" stroke-width="0.8"/></svg><span class="a1">行 程</span><span class="a2">Stroke</span><span class="a3">型 式</span><span class="a4">Type</span></div></td><td rowspan="2"></td><td rowspan="2"><i>50</i></td><td rowspan="2"><i>100</i></td><td rowspan="2"><i>150</i></td><td rowspan="2"><i>200</i></td><td rowspan="2"><i>250</i></td><td rowspan="2"><i>300</i></td><td colspan="6" class="sub"><span class="zl zs">總 行 程</span> <span style="font-size:10.2px">total stroke</span></td><td colspan="4" class="sub last" style="padding-right:0"><span class="zl zs" style="word-spacing:1.2px;letter-spacing:0.3px">增 壓 行 程</span> <span style="font-size:10.2px">boosting stroke</span></td></tr>
<tr class="n2" style="height:17.5px"><td><i>50</i></td><td><i>100</i></td><td><i>150</i></td><td><i>200</i></td><td><i>250</i></td><td><i>300</i></td><td><i>05</i></td><td><i>10</i></td><td><i>15</i></td><td class=last><i>20</i></td></tr>
<tr class="g" style="height:19px"><td class="m"><i>1205</i></td><td><i>183</i></td><td><i>200</i></td><td><i>230</i></td><td><i>260</i></td><td><i>293</i></td><td><i>325</i></td><td><i>357</i></td><td><i>157.6</i></td><td><i>207.6</i></td><td><i>257.6</i></td><td><i>307.6</i></td><td><i>357.6</i></td><td><i>407.6</i></td><td><i>74.5</i></td><td><i>110</i></td><td><i>145.5</i></td><td class="last"><i>181</i></td></tr>
<tr style="height:17.5px"><td class="m" style="padding-top:1.6px"><i>1208</i></td><td style="padding-top:1.6px"><i>183</i></td><td style="padding-top:1.6px"><i>200</i></td><td style="padding-top:1.6px"><i>230</i></td><td style="padding-top:1.6px"><i>260</i></td><td style="padding-top:1.6px"><i>293</i></td><td style="padding-top:1.6px"><i>325</i></td><td style="padding-top:1.6px"><i>357</i></td><td style="padding-top:1.6px"><i>157.6</i></td><td style="padding-top:1.6px"><i>207.6</i></td><td style="padding-top:1.6px"><i>257.6</i></td><td style="padding-top:1.6px"><i>307.6</i></td><td style="padding-top:1.6px"><i>357.6</i></td><td style="padding-top:1.6px"><i>407.6</i></td><td style="padding-top:1.6px"><i>90</i></td><td style="padding-top:1.6px"><i>141.5</i></td><td style="padding-top:1.6px"><i>192.5</i></td><td class="last" style="padding-top:1.6px"><i>243</i></td></tr>
<tr class="g" style="height:18.5px"><td class="m" style="padding-top:3px"><i>1212</i></td><td style="padding-top:3px"><i>183</i></td><td style="padding-top:3px"><i>200</i></td><td style="padding-top:3px"><i>230</i></td><td style="padding-top:3px"><i>260</i></td><td style="padding-top:3px"><i>293</i></td><td style="padding-top:3px"><i>325</i></td><td style="padding-top:3px"><i>357</i></td><td style="padding-top:3px"><i>157.6</i></td><td style="padding-top:3px"><i>207.6</i></td><td style="padding-top:3px"><i>257.6</i></td><td style="padding-top:3px"><i>307.6</i></td><td style="padding-top:3px"><i>357.6</i></td><td style="padding-top:3px"><i>407.6</i></td><td style="padding-top:3px"><i>119</i></td><td style="padding-top:3px"><i>199</i></td><td style="padding-top:3px"><i>279</i></td><td class="last" style="padding-top:3px"><i>359</i></td></tr>
</table>
<table class="dt nb" style="top:971.8px"><colgroup><col style="width:96.3px"><col style="width:48.2px"><col style="width:40.9px"><col style="width:39.0px"><col style="width:41.6px"><col style="width:43.2px"><col style="width:44.2px"><col style="width:43.1px"><col style="width:45.0px"><col style="width:42.8px"><col style="width:43.5px"><col style="width:43.5px"><col style="width:43.9px"><col style="width:42.7px"><col style="width:50.6px"><col style="width:47.9px"><col style="width:48.9px"><col style="width:45.7px"></colgroup>
<tr class="h" style="height:17.3px"><td></td><td>(A)</td><td colspan="6">W</td><td colspan="6">(B)<span class="zl">前段油壓缸管長</span> <span style="font-size:10.2px">Length of Hydraulic Cylinder</span></td><td colspan="4" class="last">(C)<span class="zl">後段氣壓缸管長</span> <span class="cn">Length of Pneumatic Cylinder</span></td></tr>
<tr style="height:17.6px"><td rowspan="2" class="diag"><div class="dg" style="height:32.900000000000006px"><svg width="97" height="33.900000000000006" viewBox="0 0 97 33.900000000000006"><line x1="0" y1="-0.3" x2="95.5" y2="33.300000000000004" stroke="#1f2a26" stroke-width="0.8"/></svg><span class="a1">行 程</span><span class="a2">Stroke</span><span class="a3">型 式</span><span class="a4">Type</span></div></td><td rowspan="2"></td><td rowspan="2"><i>50</i></td><td rowspan="2"><i>100</i></td><td rowspan="2"><i>150</i></td><td rowspan="2"><i>200</i></td><td rowspan="2"><i>250</i></td><td rowspan="2"><i>300</i></td><td colspan="6" class="sub"><span class="zl zs">總 行 程</span> <span style="font-size:10.2px">total stroke</span></td><td colspan="4" class="sub last" style="padding-right:0"><span class="zl zs" style="word-spacing:1.2px;letter-spacing:0.3px">增 壓 行 程</span> <span style="font-size:10.2px">boosting stroke</span></td></tr>
<tr class="n2" style="height:17.3px"><td><i>50</i></td><td><i>100</i></td><td><i>150</i></td><td><i>200</i></td><td><i>250</i></td><td><i>300</i></td><td><i>05</i></td><td><i>10</i></td><td><i>15</i></td><td class=last><i>20</i></td></tr>
<tr class="g" style="height:18.1px"><td class="m" style="padding-top:1px"><i>1608</i></td><td style="padding-top:1px"><i>200</i></td><td style="padding-top:1px"><i>215</i></td><td style="padding-top:1px"><i>265</i></td><td style="padding-top:1px"><i>315</i></td><td style="padding-top:1px"><i>365</i></td><td style="padding-top:1px"><i>415</i></td><td style="padding-top:1px"><i>465</i></td><td style="padding-top:1px"><i>166.6</i></td><td style="padding-top:1px"><i>216.6</i></td><td style="padding-top:1px"><i>266.6</i></td><td style="padding-top:1px"><i>316.6</i></td><td style="padding-top:1px"><i>366.6</i></td><td style="padding-top:1px"><i>416.6</i></td><td style="padding-top:1px"><i>70</i></td><td style="padding-top:1px"><i>101.5</i></td><td style="padding-top:1px"><i>132.5</i></td><td class="last" style="padding-top:1px"><i>164</i></td></tr>
<tr style="height:18.2px"><td class="m" style="padding-top:1px"><i>1610</i></td><td style="padding-top:1px"><i>200</i></td><td style="padding-top:1px"><i>215</i></td><td style="padding-top:1px"><i>265</i></td><td style="padding-top:1px"><i>315</i></td><td style="padding-top:1px"><i>365</i></td><td style="padding-top:1px"><i>415</i></td><td style="padding-top:1px"><i>465</i></td><td style="padding-top:1px"><i>166.6</i></td><td style="padding-top:1px"><i>216.6</i></td><td style="padding-top:1px"><i>266.6</i></td><td style="padding-top:1px"><i>316.6</i></td><td style="padding-top:1px"><i>366.6</i></td><td style="padding-top:1px"><i>416.6</i></td><td style="padding-top:1px"><i>79.5</i></td><td style="padding-top:1px"><i>120</i></td><td style="padding-top:1px"><i>160</i></td><td class="last" style="padding-top:1px"><i>201</i></td></tr>
<tr class="g" style="height:17.4px"><td class="m" style="padding-top:0.5px"><i>1613</i></td><td style="padding-top:0.5px"><i>200</i></td><td style="padding-top:0.5px"><i>215</i></td><td style="padding-top:0.5px"><i>265</i></td><td style="padding-top:0.5px"><i>315</i></td><td style="padding-top:0.5px"><i>365</i></td><td style="padding-top:0.5px"><i>415</i></td><td style="padding-top:0.5px"><i>465</i></td><td style="padding-top:0.5px"><i>166.6</i></td><td style="padding-top:0.5px"><i>216.6</i></td><td style="padding-top:0.5px"><i>266.6</i></td><td style="padding-top:0.5px"><i>316.6</i></td><td style="padding-top:0.5px"><i>366.6</i></td><td style="padding-top:0.5px"><i>416.6</i></td><td style="padding-top:0.5px"><i>94.5</i></td><td style="padding-top:0.5px"><i>150</i></td><td style="padding-top:0.5px"><i>205.5</i></td><td class="last" style="padding-top:0.5px"><i>261</i></td></tr>
<tr style="height:17.9px"><td class="m" style="padding-top:1.4px"><i>1619</i></td><td style="padding-top:1.4px"><i>200</i></td><td style="padding-top:1.4px"><i>215</i></td><td style="padding-top:1.4px"><i>265</i></td><td style="padding-top:1.4px"><i>315</i></td><td style="padding-top:1.4px"><i>365</i></td><td style="padding-top:1.4px"><i>415</i></td><td style="padding-top:1.4px"><i>465</i></td><td style="padding-top:1.4px"><i>166.6</i></td><td style="padding-top:1.4px"><i>216.6</i></td><td style="padding-top:1.4px"><i>266.6</i></td><td style="padding-top:1.4px"><i>316.6</i></td><td style="padding-top:1.4px"><i>366.6</i></td><td style="padding-top:1.4px"><i>416.6</i></td><td style="padding-top:1.4px"><i>119</i></td><td style="padding-top:1.4px"><i>199</i></td><td style="padding-top:1.4px"><i>279</i></td><td class="last" style="padding-top:1.4px"><i>359</i></td></tr>
<tr class="g" style="height:17.4px"><td class="m" style="padding-top:2.6px"><i>1630</i></td><td style="padding-top:2.6px"><i>200</i></td><td style="padding-top:2.6px"><i>215</i></td><td style="padding-top:2.6px"><i>265</i></td><td style="padding-top:2.6px"><i>315</i></td><td style="padding-top:2.6px"><i>365</i></td><td style="padding-top:2.6px"><i>415</i></td><td style="padding-top:2.6px"><i>465</i></td><td style="padding-top:2.6px"><i>166.6</i></td><td style="padding-top:2.6px"><i>216.6</i></td><td style="padding-top:2.6px"><i>266.6</i></td><td style="padding-top:2.6px"><i>316.6</i></td><td style="padding-top:2.6px"><i>366.6</i></td><td style="padding-top:2.6px"><i>416.6</i></td><td style="padding-top:2.6px"><i>164</i></td><td style="padding-top:2.6px"><i>289</i></td><td style="padding-top:2.6px"><i>414</i></td><td class="last" style="padding-top:2.6px"><i>539</i></td></tr>
</table>
<div class="abs fn" style="left:4.5px;top:560px">※非標準品，可接受訂製&nbsp; Non-standard, on request.</div>
<div class="abs un" style="right:3.5px;top:559.3px;transform:scaleX(1.21)"><b>(</b> 單位 unit<b>:mm )</b></div>
<div class="abs fn" style="left:4.8px;top:1118.4px">※非標準品，可接受訂製&nbsp; Non-standard, on request.</div>
<div class="abs un" style="right:3px;top:1121px;font-size:8.9px;transform:scaleX(1.19)"><b style="font-size:8.8px">(</b> 單位 unit<b style="font-size:8.8px">:mm )</b></div>
</body></html>
